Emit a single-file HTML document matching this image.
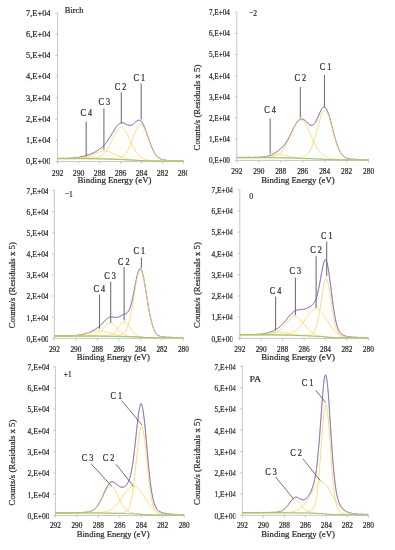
<!DOCTYPE html>
<html lang="en"><head><meta charset="utf-8"><title>XPS C1s spectra</title>
<style>
html,body{margin:0;padding:0;background:#fff;}
svg{display:block;will-change:transform;font-family:'Liberation Serif', 'DejaVu Serif', serif;}
text{stroke:#262626;stroke-width:0.22px;}
</style></head>
<body>
<svg width="395" height="550" viewBox="0 0 395 550">
<rect width="395" height="550" fill="#fff"/>
<linearGradient id="gb" x1="0" y1="0" x2="1" y2="0"><stop offset="0" stop-color="#68c45e"/><stop offset="0.65" stop-color="#6cc468"/><stop offset="1" stop-color="#60c8ac"/></linearGradient>
<clipPath id="c1"><rect x="0" y="0" width="187.4" height="550"/></clipPath>
<clipPath id="c2"><rect x="0" y="0" width="49.2" height="550"/></clipPath>
<g>
<path d="M57.6,12.9 V161.6 H183.5" fill="none" stroke="#b8b8b8" stroke-width="0.8"/>
<path d="M55.4,161.6 H57.6 M55.4,140.4 H57.6 M55.4,119.1 H57.6 M55.4,97.9 H57.6 M55.4,76.6 H57.6 M55.4,55.4 H57.6 M55.4,34.1 H57.6 M55.4,12.9 H57.6 M57.6,161.6 V163.8 M78.6,161.6 V163.8 M99.6,161.6 V163.8 M120.6,161.6 V163.8 M141.5,161.6 V163.8 M162.5,161.6 V163.8 M183.5,161.6 V163.8 " fill="none" stroke="#b8b8b8" stroke-width="0.8"/>
<clipPath id="t0"><rect x="0" y="0" width="49.9" height="550"/></clipPath>
<g font-size="8.60" fill="#2b2b2b" text-anchor="end" clip-path="url(#t0)">
<text x="50.7" y="164.2" textLength="24.7" lengthAdjust="spacingAndGlyphs">0,E+00</text>
<text x="50.7" y="143.0" textLength="24.7" lengthAdjust="spacingAndGlyphs">1,E+04</text>
<text x="50.7" y="121.7" textLength="24.7" lengthAdjust="spacingAndGlyphs">2,E+04</text>
<text x="50.7" y="100.5" textLength="24.7" lengthAdjust="spacingAndGlyphs">3,E+04</text>
<text x="50.7" y="79.2" textLength="24.7" lengthAdjust="spacingAndGlyphs">4,E+04</text>
<text x="50.7" y="58.0" textLength="24.7" lengthAdjust="spacingAndGlyphs">5,E+04</text>
<text x="50.7" y="36.7" textLength="24.7" lengthAdjust="spacingAndGlyphs">6,E+04</text>
<text x="50.7" y="15.5" textLength="24.7" lengthAdjust="spacingAndGlyphs">7,E+04</text>
</g>
<g font-size="9.0" fill="#2b2b2b" text-anchor="middle">
<text x="57.6" y="176.2" textLength="11.7" lengthAdjust="spacingAndGlyphs">292</text>
<text x="78.6" y="176.2" textLength="11.7" lengthAdjust="spacingAndGlyphs">290</text>
<text x="99.6" y="176.2" textLength="11.7" lengthAdjust="spacingAndGlyphs">288</text>
<text x="120.6" y="176.2" textLength="11.7" lengthAdjust="spacingAndGlyphs">286</text>
<text x="141.5" y="176.2" textLength="11.7" lengthAdjust="spacingAndGlyphs">284</text>
<text x="162.5" y="176.2" textLength="11.7" lengthAdjust="spacingAndGlyphs">282</text>
<text x="183.5" y="176.2" textLength="11.7" lengthAdjust="spacingAndGlyphs" clip-path="url(#c1)">280</text>
</g>
<text x="77.5" y="182.6" font-size="9.0" fill="#2b2b2b" textLength="73.9" lengthAdjust="spacingAndGlyphs">Binding Energy (eV)</text>
<text x="64.8" y="13.1" font-size="9.1" fill="#2b2b2b" textLength="18.7" lengthAdjust="spacingAndGlyphs">Birch</text>
<path d="M57.6,158.2 L58.4,158.3 L59.2,158.5 L60.0,158.6 L60.7,158.6 L61.5,158.5 L62.3,158.3 L63.1,158.2 L63.9,158.2 L64.7,158.4 L65.5,158.5 L66.3,158.6 L67.0,158.5 L67.8,158.3 L68.6,158.1 L69.4,158.0 L70.2,158.0 L71.0,158.2 L71.8,158.3 L72.6,158.3 L73.3,158.1 L74.1,157.8 L74.9,157.6 L75.7,157.5 L76.5,157.6 L77.3,157.7 L78.1,157.7 L78.8,157.5 L79.6,157.2 L80.4,156.8 L81.2,156.5 L82.0,156.4 L82.8,156.4 L83.6,156.4 L84.4,156.2 L85.1,155.9 L85.9,155.5 L86.7,155.1 L87.5,154.8 L88.3,154.7 L89.1,154.6 L89.9,154.5 L90.6,154.3 L91.4,153.8 L92.2,153.3 L93.0,152.8 L93.8,152.4 L94.6,152.2 L95.4,152.0 L96.2,151.6 L96.9,151.1 L97.7,150.4 L98.5,149.7 L99.3,149.0 L100.1,148.5 L100.9,148.1 L101.7,147.7 L102.5,147.1 L103.2,146.2 L104.0,145.3 L104.8,144.3 L105.6,143.3 L106.4,142.5 L107.2,141.6 L108.0,140.6 L108.7,139.3 L109.5,137.9 L110.3,136.3 L111.1,134.9 L111.9,133.6 L112.7,132.4 L113.5,131.3 L114.3,130.1 L115.0,128.9 L115.8,127.6 L116.6,126.4 L117.4,125.4 L118.2,124.8 L119.0,124.3 L119.8,123.9 L120.6,123.5 L121.3,123.0 L122.1,122.7 L122.9,122.6 L123.7,122.7 L124.5,123.2 L125.3,123.7 L126.1,124.3 L126.8,124.7 L127.6,124.9 L128.4,125.1 L129.2,125.2 L130.0,125.4 L130.8,125.5 L131.6,125.4 L132.4,125.0 L133.1,124.3 L133.9,123.4 L134.7,122.5 L135.5,121.7 L136.3,121.1 L137.1,120.7 L137.9,120.4 L138.6,120.1 L139.4,120.1 L140.2,120.2 L141.0,120.8 L141.8,121.9 L142.6,123.3 L143.4,125.1 L144.2,126.9 L144.9,128.8 L145.7,130.6 L146.5,132.6 L147.3,134.7 L148.1,137.0 L148.9,139.4 L149.7,141.8 L150.5,144.0 L151.2,145.9 L152.0,147.6 L152.8,149.2 L153.6,150.9 L154.4,152.5 L155.2,154.0 L156.0,155.3 L156.7,156.2 L157.5,156.9 L158.3,157.4 L159.1,157.9 L159.9,158.4 L160.7,159.0 L161.5,159.5 L162.3,159.8 L163.0,160.0 L163.8,159.9 L164.6,159.9 L165.4,160.0 L166.2,160.2 L167.0,160.5 L167.8,160.7 L168.5,160.8 L169.3,160.7 L170.1,160.5 L170.9,160.4 L171.7,160.5 L172.5,160.6 L173.3,160.9 L174.1,161.0 L174.8,161.0 L175.6,160.8 L176.4,160.6 L177.2,160.5 L178.0,160.6 L178.8,160.9 L179.6,161.0 L180.4,161.1 L181.1,161.0 L181.9,160.8 L182.7,160.7 L183.5,160.7" fill="none" stroke="#ec5f7c" stroke-width="0.55"/>
<path d="M57.6,158.4 L58.4,158.4 L59.2,158.4 L60.0,158.4 L60.7,158.4 L61.5,158.4 L62.3,158.4 L63.1,158.4 L63.9,158.4 L64.7,158.4 L65.5,158.4 L66.3,158.3 L67.0,158.3 L67.8,158.3 L68.6,158.3 L69.4,158.2 L70.2,158.2 L71.0,158.2 L71.8,158.1 L72.6,158.1 L73.3,158.0 L74.1,157.9 L74.9,157.8 L75.7,157.7 L76.5,157.6 L77.3,157.5 L78.1,157.4 L78.8,157.2 L79.6,157.1 L80.4,156.9 L81.2,156.8 L82.0,156.6 L82.8,156.4 L83.6,156.2 L84.4,156.0 L85.1,155.8 L85.9,155.5 L86.7,155.3 L87.5,155.1 L88.3,154.8 L89.1,154.5 L89.9,154.3 L90.6,154.0 L91.4,153.7 L92.2,153.3 L93.0,153.0 L93.8,152.6 L94.6,152.2 L95.4,151.8 L96.2,151.4 L96.9,150.9 L97.7,150.4 L98.5,149.9 L99.3,149.4 L100.1,148.8 L100.9,148.2 L101.7,147.5 L102.5,146.8 L103.2,146.0 L104.0,145.2 L104.8,144.4 L105.6,143.4 L106.4,142.5 L107.2,141.4 L108.0,140.3 L108.7,139.1 L109.5,137.9 L110.3,136.6 L111.1,135.3 L111.9,134.0 L112.7,132.6 L113.5,131.3 L114.3,130.0 L115.0,128.7 L115.8,127.5 L116.6,126.4 L117.4,125.4 L118.2,124.6 L119.0,123.9 L119.8,123.4 L120.6,123.0 L121.3,122.9 L122.1,122.8 L122.9,123.0 L123.7,123.2 L124.5,123.5 L125.3,123.9 L126.1,124.3 L126.8,124.7 L127.6,125.0 L128.4,125.2 L129.2,125.4 L130.0,125.3 L130.8,125.2 L131.6,124.9 L132.4,124.5 L133.1,124.0 L133.9,123.4 L134.7,122.7 L135.5,122.0 L136.3,121.4 L137.1,120.8 L137.9,120.4 L138.6,120.2 L139.4,120.3 L140.2,120.6 L141.0,121.2 L141.8,122.0 L142.6,123.2 L143.4,124.7 L144.2,126.4 L144.9,128.3 L145.7,130.4 L146.5,132.6 L147.3,134.9 L148.1,137.2 L148.9,139.4 L149.7,141.7 L150.5,143.8 L151.2,145.9 L152.0,147.8 L152.8,149.5 L153.6,151.1 L154.4,152.6 L155.2,153.9 L156.0,155.0 L156.7,155.9 L157.5,156.8 L158.3,157.5 L159.1,158.1 L159.9,158.6 L160.7,159.0 L161.5,159.3 L162.3,159.6 L163.0,159.8 L163.8,160.0 L164.6,160.1 L165.4,160.3 L166.2,160.3 L167.0,160.4 L167.8,160.5 L168.5,160.5 L169.3,160.6 L170.1,160.6 L170.9,160.6 L171.7,160.7 L172.5,160.7 L173.3,160.7 L174.1,160.7 L174.8,160.8 L175.6,160.8 L176.4,160.8 L177.2,160.8 L178.0,160.8 L178.8,160.8 L179.6,160.8 L180.4,160.9 L181.1,160.9 L181.9,160.9 L182.7,160.9 L183.5,160.9" fill="none" stroke="#5a70c8" stroke-width="0.75"/>
<path d="M57.6,158.6 L58.4,158.6 L59.2,158.6 L60.0,158.6 L60.7,158.6 L61.5,158.6 L62.3,158.6 L63.1,158.6 L63.9,158.6 L64.7,158.6 L65.5,158.6 L66.3,158.6 L67.0,158.6 L67.8,158.6 L68.6,158.6 L69.4,158.6 L70.2,158.6 L71.0,158.6 L71.8,158.6 L72.6,158.6 L73.3,158.6 L74.1,158.6 L74.9,158.6 L75.7,158.6 L76.5,158.6 L77.3,158.6 L78.1,158.6 L78.8,158.6 L79.6,158.6 L80.4,158.6 L81.2,158.6 L82.0,158.6 L82.8,158.6 L83.6,158.6 L84.4,158.6 L85.1,158.6 L85.9,158.6 L86.7,158.6 L87.5,158.7 L88.3,158.7 L89.1,158.7 L89.9,158.7 L90.6,158.7 L91.4,158.7 L92.2,158.7 L93.0,158.7 L93.8,158.7 L94.6,158.7 L95.4,158.7 L96.2,158.7 L96.9,158.7 L97.7,158.7 L98.5,158.7 L99.3,158.7 L100.1,158.7 L100.9,158.7 L101.7,158.7 L102.5,158.7 L103.2,158.7 L104.0,158.7 L104.8,158.8 L105.6,158.8 L106.4,158.8 L107.2,158.8 L108.0,158.8 L108.7,158.8 L109.5,158.8 L110.3,158.8 L111.1,158.8 L111.9,158.8 L112.7,158.8 L113.5,158.8 L114.3,158.8 L115.0,158.7 L115.8,158.7 L116.6,158.6 L117.4,158.5 L118.2,158.4 L119.0,158.2 L119.8,158.0 L120.6,157.8 L121.3,157.4 L122.1,157.0 L122.9,156.5 L123.7,155.9 L124.5,155.1 L125.3,154.2 L126.1,153.2 L126.8,152.0 L127.6,150.7 L128.4,149.2 L129.2,147.6 L130.0,145.8 L130.8,143.9 L131.6,141.9 L132.4,139.8 L133.1,137.7 L133.9,135.5 L134.7,133.5 L135.5,131.5 L136.3,129.7 L137.1,128.0 L137.9,126.7 L138.6,125.6 L139.4,124.8 L140.2,124.5 L141.0,124.5 L141.8,124.9 L142.6,125.6 L143.4,126.7 L144.2,128.1 L144.9,129.8 L145.7,131.6 L146.5,133.7 L147.3,135.8 L148.1,138.0 L148.9,140.2 L149.7,142.3 L150.5,144.4 L151.2,146.4 L152.0,148.2 L152.8,150.0 L153.6,151.5 L154.4,153.0 L155.2,154.2 L156.0,155.3 L156.7,156.3 L157.5,157.1 L158.3,157.8 L159.1,158.4 L159.9,158.8 L160.7,159.2 L161.5,159.6 L162.3,159.8 L163.0,160.0 L163.8,160.2 L164.6,160.3 L165.4,160.5 L166.2,160.5 L167.0,160.6 L167.8,160.7 L168.5,160.7 L169.3,160.8 L170.1,160.8 L170.9,160.8 L171.7,160.8 L172.5,160.9 L173.3,160.9 L174.1,160.9 L174.8,160.9 L175.6,160.9 L176.4,160.9 L177.2,160.9 L178.0,160.9 L178.8,161.0 L179.6,161.0 L180.4,161.0 L181.1,161.0 L181.9,161.0 L182.7,161.0 L183.5,161.0" fill="none" stroke="#ffd35c" stroke-width="0.9" stroke-opacity="0.9"/>
<path d="M57.6,158.5 L58.4,158.5 L59.2,158.5 L60.0,158.5 L60.7,158.5 L61.5,158.5 L62.3,158.5 L63.1,158.5 L63.9,158.5 L64.7,158.5 L65.5,158.5 L66.3,158.5 L67.0,158.5 L67.8,158.5 L68.6,158.5 L69.4,158.5 L70.2,158.5 L71.0,158.5 L71.8,158.5 L72.6,158.5 L73.3,158.5 L74.1,158.5 L74.9,158.5 L75.7,158.5 L76.5,158.5 L77.3,158.5 L78.1,158.5 L78.8,158.5 L79.6,158.5 L80.4,158.5 L81.2,158.5 L82.0,158.5 L82.8,158.5 L83.6,158.5 L84.4,158.5 L85.1,158.5 L85.9,158.5 L86.7,158.5 L87.5,158.5 L88.3,158.4 L89.1,158.4 L89.9,158.4 L90.6,158.4 L91.4,158.3 L92.2,158.3 L93.0,158.2 L93.8,158.2 L94.6,158.1 L95.4,158.0 L96.2,157.8 L96.9,157.6 L97.7,157.4 L98.5,157.2 L99.3,156.9 L100.1,156.5 L100.9,156.1 L101.7,155.6 L102.5,155.1 L103.2,154.4 L104.0,153.6 L104.8,152.8 L105.6,151.8 L106.4,150.8 L107.2,149.6 L108.0,148.3 L108.7,146.9 L109.5,145.5 L110.3,143.9 L111.1,142.3 L111.9,140.7 L112.7,139.0 L113.5,137.4 L114.3,135.7 L115.0,134.2 L115.8,132.7 L116.6,131.3 L117.4,130.1 L118.2,129.1 L119.0,128.3 L119.8,127.7 L120.6,127.4 L121.3,127.3 L122.1,127.5 L122.9,127.9 L123.7,128.6 L124.5,129.5 L125.3,130.7 L126.1,132.0 L126.8,133.4 L127.6,135.0 L128.4,136.6 L129.2,138.3 L130.0,140.1 L130.8,141.8 L131.6,143.5 L132.4,145.1 L133.1,146.7 L133.9,148.2 L134.7,149.7 L135.5,151.0 L136.3,152.2 L137.1,153.3 L137.9,154.3 L138.6,155.2 L139.4,156.0 L140.2,156.7 L141.0,157.3 L141.8,157.9 L142.6,158.3 L143.4,158.7 L144.2,159.1 L144.9,159.4 L145.7,159.6 L146.5,159.8 L147.3,160.0 L148.1,160.1 L148.9,160.3 L149.7,160.4 L150.5,160.4 L151.2,160.5 L152.0,160.6 L152.8,160.6 L153.6,160.7 L154.4,160.7 L155.2,160.7 L156.0,160.8 L156.7,160.8 L157.5,160.8 L158.3,160.8 L159.1,160.8 L159.9,160.9 L160.7,160.9 L161.5,160.9 L162.3,160.9 L163.0,160.9 L163.8,160.9 L164.6,160.9 L165.4,160.9 L166.2,160.9 L167.0,161.0 L167.8,161.0 L168.5,161.0 L169.3,161.0 L170.1,161.0 L170.9,161.0 L171.7,161.0 L172.5,161.0 L173.3,161.0 L174.1,161.0 L174.8,161.0 L175.6,161.0 L176.4,161.0 L177.2,161.0 L178.0,161.0 L178.8,161.1 L179.6,161.1 L180.4,161.1 L181.1,161.1 L181.9,161.1 L182.7,161.1 L183.5,161.1" fill="none" stroke="#ffd35c" stroke-width="0.9" stroke-opacity="0.9"/>
<path d="M57.6,158.6 L58.4,158.6 L59.2,158.6 L60.0,158.6 L60.7,158.6 L61.5,158.6 L62.3,158.6 L63.1,158.6 L63.9,158.6 L64.7,158.6 L65.5,158.6 L66.3,158.6 L67.0,158.6 L67.8,158.6 L68.6,158.6 L69.4,158.6 L70.2,158.6 L71.0,158.5 L71.8,158.5 L72.6,158.5 L73.3,158.5 L74.1,158.5 L74.9,158.5 L75.7,158.4 L76.5,158.4 L77.3,158.4 L78.1,158.3 L78.8,158.3 L79.6,158.2 L80.4,158.1 L81.2,158.0 L82.0,157.9 L82.8,157.8 L83.6,157.7 L84.4,157.5 L85.1,157.4 L85.9,157.2 L86.7,157.0 L87.5,156.7 L88.3,156.5 L89.1,156.2 L89.9,156.0 L90.6,155.6 L91.4,155.3 L92.2,155.0 L93.0,154.6 L93.8,154.3 L94.6,153.9 L95.4,153.6 L96.2,153.2 L96.9,152.9 L97.7,152.5 L98.5,152.2 L99.3,151.9 L100.1,151.7 L100.9,151.4 L101.7,151.2 L102.5,151.1 L103.2,151.0 L104.0,150.9 L104.8,150.9 L105.6,150.9 L106.4,151.0 L107.2,151.2 L108.0,151.4 L108.7,151.6 L109.5,151.9 L110.3,152.2 L111.1,152.5 L111.9,152.8 L112.7,153.2 L113.5,153.6 L114.3,154.0 L115.0,154.4 L115.8,154.8 L116.6,155.2 L117.4,155.6 L118.2,156.0 L119.0,156.3 L119.8,156.7 L120.6,157.0 L121.3,157.3 L122.1,157.6 L122.9,157.9 L123.7,158.1 L124.5,158.4 L125.3,158.6 L126.1,158.8 L126.8,158.9 L127.6,159.1 L128.4,159.2 L129.2,159.4 L130.0,159.5 L130.8,159.6 L131.6,159.7 L132.4,159.8 L133.1,159.9 L133.9,159.9 L134.7,160.0 L135.5,160.1 L136.3,160.1 L137.1,160.2 L137.9,160.3 L138.6,160.3 L139.4,160.4 L140.2,160.4 L141.0,160.5 L141.8,160.5 L142.6,160.6 L143.4,160.6 L144.2,160.6 L144.9,160.7 L145.7,160.7 L146.5,160.8 L147.3,160.8 L148.1,160.8 L148.9,160.8 L149.7,160.9 L150.5,160.9 L151.2,160.9 L152.0,160.9 L152.8,161.0 L153.6,161.0 L154.4,161.0 L155.2,161.0 L156.0,161.0 L156.7,161.0 L157.5,161.0 L158.3,161.0 L159.1,161.0 L159.9,161.0 L160.7,161.1 L161.5,161.1 L162.3,161.1 L163.0,161.1 L163.8,161.1 L164.6,161.1 L165.4,161.1 L166.2,161.1 L167.0,161.1 L167.8,161.1 L168.5,161.1 L169.3,161.1 L170.1,161.1 L170.9,161.1 L171.7,161.1 L172.5,161.1 L173.3,161.1 L174.1,161.1 L174.8,161.1 L175.6,161.1 L176.4,161.1 L177.2,161.1 L178.0,161.1 L178.8,161.1 L179.6,161.1 L180.4,161.1 L181.1,161.1 L181.9,161.2 L182.7,161.2 L183.5,161.2" fill="none" stroke="#ffd35c" stroke-width="0.9" stroke-opacity="0.9"/>
<path d="M57.6,158.6 L58.4,158.6 L59.2,158.6 L60.0,158.6 L60.7,158.6 L61.5,158.6 L62.3,158.6 L63.1,158.6 L63.9,158.6 L64.7,158.6 L65.5,158.6 L66.3,158.6 L67.0,158.6 L67.8,158.6 L68.6,158.6 L69.4,158.5 L70.2,158.5 L71.0,158.5 L71.8,158.4 L72.6,158.4 L73.3,158.4 L74.1,158.3 L74.9,158.3 L75.7,158.2 L76.5,158.1 L77.3,158.1 L78.1,158.0 L78.8,157.9 L79.6,157.9 L80.4,157.8 L81.2,157.7 L82.0,157.7 L82.8,157.6 L83.6,157.6 L84.4,157.5 L85.1,157.5 L85.9,157.5 L86.7,157.5 L87.5,157.5 L88.3,157.5 L89.1,157.5 L89.9,157.6 L90.6,157.6 L91.4,157.7 L92.2,157.8 L93.0,157.8 L93.8,157.9 L94.6,158.0 L95.4,158.1 L96.2,158.2 L96.9,158.3 L97.7,158.3 L98.5,158.4 L99.3,158.5 L100.1,158.5 L100.9,158.6 L101.7,158.7 L102.5,158.7 L103.2,158.8 L104.0,158.8 L104.8,158.9 L105.6,158.9 L106.4,158.9 L107.2,159.0 L108.0,159.0 L108.7,159.0 L109.5,159.1 L110.3,159.1 L111.1,159.1 L111.9,159.1 L112.7,159.2 L113.5,159.2 L114.3,159.2 L115.0,159.3 L115.8,159.3 L116.6,159.3 L117.4,159.4 L118.2,159.4 L119.0,159.5 L119.8,159.5 L120.6,159.5 L121.3,159.6 L122.1,159.6 L122.9,159.6 L123.7,159.7 L124.5,159.7 L125.3,159.8 L126.1,159.8 L126.8,159.8 L127.6,159.9 L128.4,159.9 L129.2,160.0 L130.0,160.0 L130.8,160.0 L131.6,160.1 L132.4,160.1 L133.1,160.1 L133.9,160.2 L134.7,160.2 L135.5,160.3 L136.3,160.3 L137.1,160.3 L137.9,160.4 L138.6,160.4 L139.4,160.5 L140.2,160.5 L141.0,160.6 L141.8,160.6 L142.6,160.6 L143.4,160.7 L144.2,160.7 L144.9,160.7 L145.7,160.8 L146.5,160.8 L147.3,160.8 L148.1,160.9 L148.9,160.9 L149.7,160.9 L150.5,160.9 L151.2,161.0 L152.0,161.0 L152.8,161.0 L153.6,161.0 L154.4,161.0 L155.2,161.0 L156.0,161.0 L156.7,161.1 L157.5,161.1 L158.3,161.1 L159.1,161.1 L159.9,161.1 L160.7,161.1 L161.5,161.1 L162.3,161.1 L163.0,161.1 L163.8,161.1 L164.6,161.1 L165.4,161.1 L166.2,161.1 L167.0,161.1 L167.8,161.1 L168.5,161.1 L169.3,161.1 L170.1,161.1 L170.9,161.1 L171.7,161.1 L172.5,161.1 L173.3,161.1 L174.1,161.1 L174.8,161.1 L175.6,161.1 L176.4,161.1 L177.2,161.2 L178.0,161.2 L178.8,161.2 L179.6,161.2 L180.4,161.2 L181.1,161.2 L181.9,161.2 L182.7,161.2 L183.5,161.2" fill="none" stroke="#ffd35c" stroke-width="0.9" stroke-opacity="0.9"/>
<path d="M57.6,158.6 L58.4,158.6 L59.2,158.6 L60.0,158.6 L60.7,158.6 L61.5,158.6 L62.3,158.6 L63.1,158.6 L63.9,158.6 L64.7,158.6 L65.5,158.7 L66.3,158.7 L67.0,158.7 L67.8,158.7 L68.6,158.7 L69.4,158.7 L70.2,158.7 L71.0,158.7 L71.8,158.7 L72.6,158.7 L73.3,158.7 L74.1,158.7 L74.9,158.7 L75.7,158.7 L76.5,158.7 L77.3,158.7 L78.1,158.7 L78.8,158.7 L79.6,158.7 L80.4,158.7 L81.2,158.7 L82.0,158.7 L82.8,158.7 L83.6,158.7 L84.4,158.7 L85.1,158.7 L85.9,158.7 L86.7,158.8 L87.5,158.8 L88.3,158.8 L89.1,158.8 L89.9,158.8 L90.6,158.8 L91.4,158.8 L92.2,158.8 L93.0,158.8 L93.8,158.8 L94.6,158.8 L95.4,158.8 L96.2,158.8 L96.9,158.8 L97.7,158.9 L98.5,158.9 L99.3,158.9 L100.1,158.9 L100.9,158.9 L101.7,158.9 L102.5,158.9 L103.2,158.9 L104.0,159.0 L104.8,159.0 L105.6,159.0 L106.4,159.0 L107.2,159.0 L108.0,159.1 L108.7,159.1 L109.5,159.1 L110.3,159.1 L111.1,159.1 L111.9,159.2 L112.7,159.2 L113.5,159.2 L114.3,159.3 L115.0,159.3 L115.8,159.3 L116.6,159.4 L117.4,159.4 L118.2,159.4 L119.0,159.5 L119.8,159.5 L120.6,159.5 L121.3,159.6 L122.1,159.6 L122.9,159.7 L123.7,159.7 L124.5,159.7 L125.3,159.8 L126.1,159.8 L126.8,159.8 L127.6,159.9 L128.4,159.9 L129.2,160.0 L130.0,160.0 L130.8,160.0 L131.6,160.1 L132.4,160.1 L133.1,160.1 L133.9,160.2 L134.7,160.2 L135.5,160.3 L136.3,160.3 L137.1,160.3 L137.9,160.4 L138.6,160.4 L139.4,160.5 L140.2,160.5 L141.0,160.6 L141.8,160.6 L142.6,160.6 L143.4,160.7 L144.2,160.7 L144.9,160.8 L145.7,160.8 L146.5,160.8 L147.3,160.8 L148.1,160.9 L148.9,160.9 L149.7,160.9 L150.5,160.9 L151.2,161.0 L152.0,161.0 L152.8,161.0 L153.6,161.0 L154.4,161.0 L155.2,161.0 L156.0,161.0 L156.7,161.1 L157.5,161.1 L158.3,161.1 L159.1,161.1 L159.9,161.1 L160.7,161.1 L161.5,161.1 L162.3,161.1 L163.0,161.1 L163.8,161.1 L164.6,161.1 L165.4,161.1 L166.2,161.1 L167.0,161.1 L167.8,161.1 L168.5,161.1 L169.3,161.1 L170.1,161.1 L170.9,161.1 L171.7,161.1 L172.5,161.1 L173.3,161.1 L174.1,161.1 L174.8,161.1 L175.6,161.1 L176.4,161.2 L177.2,161.2 L178.0,161.2 L178.8,161.2 L179.6,161.2 L180.4,161.2 L181.1,161.2 L181.9,161.2 L182.7,161.2 L183.5,161.2" fill="none" stroke="url(#gb)" stroke-width="1.0" stroke-opacity="0.9"/>
<path d="M141.2,83.5 L141.2,119.6" stroke="#6c6c6c" stroke-width="1.05" fill="none"/>
<text x="139.4" y="80.8" font-size="9.5" fill="#2b2b2b" text-anchor="middle" textLength="11.6" lengthAdjust="spacingAndGlyphs">C 1</text>
<path d="M121.3,92.3 L121.3,123.2" stroke="#6c6c6c" stroke-width="1.05" fill="none"/>
<text x="120.6" y="90.4" font-size="9.5" fill="#2b2b2b" text-anchor="middle" textLength="11.6" lengthAdjust="spacingAndGlyphs">C 2</text>
<path d="M103.9,108.3 L103.9,149.8" stroke="#6c6c6c" stroke-width="1.05" fill="none"/>
<text x="104.2" y="104.5" font-size="9.5" fill="#2b2b2b" text-anchor="middle" textLength="11.6" lengthAdjust="spacingAndGlyphs">C 3</text>
<path d="M86.2,121.4 L86.2,156.2" stroke="#6c6c6c" stroke-width="1.05" fill="none"/>
<text x="86.2" y="116.0" font-size="9.5" fill="#2b2b2b" text-anchor="middle" textLength="11.6" lengthAdjust="spacingAndGlyphs">C 4</text>
</g>
<g>
<path d="M236.8,12.2 V160.4 H368.6" fill="none" stroke="#b8b8b8" stroke-width="0.8"/>
<path d="M234.6,160.4 H236.8 M234.6,139.2 H236.8 M234.6,118.1 H236.8 M234.6,96.9 H236.8 M234.6,75.7 H236.8 M234.6,54.5 H236.8 M234.6,33.4 H236.8 M234.6,12.2 H236.8 M236.8,160.4 V162.6 M258.8,160.4 V162.6 M280.7,160.4 V162.6 M302.7,160.4 V162.6 M324.7,160.4 V162.6 M346.6,160.4 V162.6 M368.6,160.4 V162.6 " fill="none" stroke="#b8b8b8" stroke-width="0.8"/>
<g font-size="8.00" fill="#2b2b2b" text-anchor="end">
<text x="229.9" y="163.2" textLength="21.0" lengthAdjust="spacingAndGlyphs">0,E+00</text>
<text x="229.9" y="142.0" textLength="21.0" lengthAdjust="spacingAndGlyphs">1,E+04</text>
<text x="229.9" y="120.9" textLength="21.0" lengthAdjust="spacingAndGlyphs">2,E+04</text>
<text x="229.9" y="99.7" textLength="21.0" lengthAdjust="spacingAndGlyphs">3,E+04</text>
<text x="229.9" y="78.5" textLength="21.0" lengthAdjust="spacingAndGlyphs">4,E+04</text>
<text x="229.9" y="57.3" textLength="21.0" lengthAdjust="spacingAndGlyphs">5,E+04</text>
<text x="229.9" y="36.2" textLength="21.0" lengthAdjust="spacingAndGlyphs">6,E+04</text>
<text x="229.9" y="15.0" textLength="21.0" lengthAdjust="spacingAndGlyphs">7,E+04</text>
</g>
<g font-size="8.4" fill="#2b2b2b" text-anchor="middle">
<text x="236.8" y="174.0" textLength="11.0" lengthAdjust="spacingAndGlyphs">292</text>
<text x="258.8" y="174.0" textLength="11.0" lengthAdjust="spacingAndGlyphs">290</text>
<text x="280.7" y="174.0" textLength="11.0" lengthAdjust="spacingAndGlyphs">288</text>
<text x="302.7" y="174.0" textLength="11.0" lengthAdjust="spacingAndGlyphs">286</text>
<text x="324.7" y="174.0" textLength="11.0" lengthAdjust="spacingAndGlyphs">284</text>
<text x="346.6" y="174.0" textLength="11.0" lengthAdjust="spacingAndGlyphs">282</text>
<text x="368.6" y="174.0" textLength="11.0" lengthAdjust="spacingAndGlyphs">280</text>
</g>
<text x="261.3" y="182.6" font-size="9.0" fill="#2b2b2b" textLength="73.3" lengthAdjust="spacingAndGlyphs">Binding Energy (eV)</text>
<text transform="translate(200.2,107.5) rotate(-90)" text-anchor="middle" font-size="9.0" fill="#2b2b2b" textLength="85.8" lengthAdjust="spacingAndGlyphs">Counts/s (Residuals x 5)</text>
<text x="249.0" y="16.2" font-size="9.1" fill="#2b2b2b" textLength="8.0" lengthAdjust="spacingAndGlyphs">−2</text>
<path d="M236.8,157.2 L237.6,157.3 L238.4,157.5 L239.3,157.7 L240.1,157.7 L240.9,157.5 L241.7,157.3 L242.6,157.2 L243.4,157.2 L244.2,157.4 L245.0,157.6 L245.9,157.7 L246.7,157.6 L247.5,157.4 L248.3,157.2 L249.2,157.1 L250.0,157.2 L250.8,157.4 L251.6,157.6 L252.5,157.6 L253.3,157.5 L254.1,157.3 L254.9,157.1 L255.7,157.1 L256.6,157.2 L257.4,157.4 L258.2,157.5 L259.0,157.5 L259.9,157.3 L260.7,157.0 L261.5,156.9 L262.3,156.9 L263.2,157.0 L264.0,157.1 L264.8,157.0 L265.6,156.8 L266.5,156.4 L267.3,156.1 L268.1,155.8 L268.9,155.7 L269.8,155.6 L270.6,155.5 L271.4,155.1 L272.2,154.6 L273.0,154.0 L273.9,153.4 L274.7,152.9 L275.5,152.5 L276.3,152.2 L277.2,151.7 L278.0,151.0 L278.8,150.2 L279.6,149.3 L280.5,148.6 L281.3,147.9 L282.1,147.3 L282.9,146.7 L283.8,145.9 L284.6,144.8 L285.4,143.5 L286.2,142.2 L287.0,140.8 L287.9,139.6 L288.7,138.2 L289.5,136.8 L290.3,135.0 L291.2,133.1 L292.0,131.1 L292.8,129.2 L293.6,127.6 L294.5,126.1 L295.3,124.8 L296.1,123.6 L296.9,122.3 L297.8,121.1 L298.6,120.2 L299.4,119.5 L300.2,119.2 L301.1,119.2 L301.9,119.3 L302.7,119.4 L303.5,119.6 L304.3,119.9 L305.2,120.3 L306.0,121.0 L306.8,122.0 L307.6,123.0 L308.5,123.9 L309.3,124.6 L310.1,125.0 L310.9,125.1 L311.8,125.2 L312.6,125.1 L313.4,124.8 L314.2,124.2 L315.1,123.2 L315.9,121.7 L316.7,119.8 L317.5,117.8 L318.4,115.8 L319.2,113.9 L320.0,112.2 L320.8,110.6 L321.6,109.1 L322.5,107.8 L323.3,107.0 L324.1,106.7 L324.9,107.1 L325.8,108.1 L326.6,109.6 L327.4,111.5 L328.2,113.6 L329.1,115.9 L329.9,118.4 L330.7,121.3 L331.5,124.4 L332.4,127.8 L333.2,131.2 L334.0,134.3 L334.8,137.3 L335.7,139.9 L336.5,142.5 L337.3,145.0 L338.1,147.4 L338.9,149.5 L339.8,151.4 L340.6,152.9 L341.4,153.9 L342.2,154.8 L343.1,155.6 L343.9,156.3 L344.7,157.1 L345.5,157.8 L346.4,158.2 L347.2,158.4 L348.0,158.5 L348.8,158.5 L349.7,158.6 L350.5,158.8 L351.3,159.1 L352.1,159.4 L352.9,159.4 L353.8,159.4 L354.6,159.2 L355.4,159.1 L356.2,159.2 L357.1,159.4 L357.9,159.6 L358.7,159.7 L359.5,159.7 L360.4,159.5 L361.2,159.3 L362.0,159.3 L362.8,159.4 L363.7,159.6 L364.5,159.8 L365.3,159.8 L366.1,159.8 L367.0,159.6 L367.8,159.4 L368.6,159.4" fill="none" stroke="#ec5f7c" stroke-width="0.55"/>
<path d="M236.8,157.5 L237.6,157.5 L238.4,157.5 L239.3,157.5 L240.1,157.4 L240.9,157.4 L241.7,157.4 L242.6,157.4 L243.4,157.4 L244.2,157.4 L245.0,157.4 L245.9,157.4 L246.7,157.4 L247.5,157.4 L248.3,157.4 L249.2,157.4 L250.0,157.4 L250.8,157.4 L251.6,157.4 L252.5,157.4 L253.3,157.4 L254.1,157.4 L254.9,157.3 L255.7,157.3 L256.6,157.3 L257.4,157.3 L258.2,157.3 L259.0,157.2 L259.9,157.2 L260.7,157.2 L261.5,157.1 L262.3,157.1 L263.2,157.0 L264.0,156.9 L264.8,156.8 L265.6,156.6 L266.5,156.5 L267.3,156.3 L268.1,156.1 L268.9,155.8 L269.8,155.5 L270.6,155.2 L271.4,154.9 L272.2,154.5 L273.0,154.0 L273.9,153.6 L274.7,153.1 L275.5,152.6 L276.3,152.0 L277.2,151.5 L278.0,150.9 L278.8,150.2 L279.6,149.6 L280.5,148.9 L281.3,148.2 L282.1,147.4 L282.9,146.5 L283.8,145.6 L284.6,144.6 L285.4,143.4 L286.2,142.2 L287.0,140.9 L287.9,139.5 L288.7,138.0 L289.5,136.5 L290.3,134.8 L291.2,133.1 L292.0,131.4 L292.8,129.7 L293.6,128.0 L294.5,126.4 L295.3,124.8 L296.1,123.4 L296.9,122.1 L297.8,121.0 L298.6,120.1 L299.4,119.5 L300.2,119.0 L301.1,118.8 L301.9,118.8 L302.7,119.0 L303.5,119.4 L304.3,120.0 L305.2,120.7 L306.0,121.5 L306.8,122.3 L307.6,123.2 L308.5,123.9 L309.3,124.6 L310.1,125.0 L310.9,125.3 L311.8,125.3 L312.6,125.1 L313.4,124.6 L314.2,123.8 L315.1,122.7 L315.9,121.3 L316.7,119.7 L317.5,118.0 L318.4,116.2 L319.2,114.3 L320.0,112.4 L320.8,110.7 L321.6,109.3 L322.5,108.1 L323.3,107.3 L324.1,107.0 L324.9,107.2 L325.8,107.9 L326.6,109.1 L327.4,110.9 L328.2,113.0 L329.1,115.5 L329.9,118.4 L330.7,121.4 L331.5,124.6 L332.4,127.9 L333.2,131.1 L334.0,134.3 L334.8,137.3 L335.7,140.2 L336.5,142.8 L337.3,145.3 L338.1,147.5 L338.9,149.4 L339.8,151.1 L340.6,152.6 L341.4,153.8 L342.2,154.9 L343.1,155.8 L343.9,156.5 L344.7,157.1 L345.5,157.6 L346.4,158.0 L347.2,158.3 L348.0,158.5 L348.8,158.7 L349.7,158.8 L350.5,159.0 L351.3,159.1 L352.1,159.1 L352.9,159.2 L353.8,159.3 L354.6,159.3 L355.4,159.3 L356.2,159.4 L357.1,159.4 L357.9,159.4 L358.7,159.5 L359.5,159.5 L360.4,159.5 L361.2,159.5 L362.0,159.5 L362.8,159.6 L363.7,159.6 L364.5,159.6 L365.3,159.6 L366.1,159.6 L367.0,159.6 L367.8,159.6 L368.6,159.7" fill="none" stroke="#5a70c8" stroke-width="0.75"/>
<path d="M236.8,157.6 L237.6,157.6 L238.4,157.6 L239.3,157.6 L240.1,157.6 L240.9,157.6 L241.7,157.6 L242.6,157.6 L243.4,157.6 L244.2,157.6 L245.0,157.6 L245.9,157.6 L246.7,157.6 L247.5,157.6 L248.3,157.6 L249.2,157.6 L250.0,157.6 L250.8,157.6 L251.6,157.6 L252.5,157.6 L253.3,157.6 L254.1,157.6 L254.9,157.6 L255.7,157.6 L256.6,157.6 L257.4,157.6 L258.2,157.6 L259.0,157.6 L259.9,157.6 L260.7,157.6 L261.5,157.6 L262.3,157.6 L263.2,157.6 L264.0,157.6 L264.8,157.6 L265.6,157.6 L266.5,157.6 L267.3,157.6 L268.1,157.6 L268.9,157.6 L269.8,157.6 L270.6,157.6 L271.4,157.6 L272.2,157.6 L273.0,157.6 L273.9,157.6 L274.7,157.6 L275.5,157.6 L276.3,157.6 L277.2,157.6 L278.0,157.6 L278.8,157.6 L279.6,157.6 L280.5,157.6 L281.3,157.6 L282.1,157.6 L282.9,157.6 L283.8,157.6 L284.6,157.6 L285.4,157.7 L286.2,157.7 L287.0,157.7 L287.9,157.7 L288.7,157.7 L289.5,157.7 L290.3,157.7 L291.2,157.7 L292.0,157.7 L292.8,157.7 L293.6,157.7 L294.5,157.7 L295.3,157.7 L296.1,157.7 L296.9,157.7 L297.8,157.7 L298.6,157.6 L299.4,157.6 L300.2,157.5 L301.1,157.4 L301.9,157.2 L302.7,157.1 L303.5,156.8 L304.3,156.5 L305.2,156.1 L306.0,155.5 L306.8,154.9 L307.6,154.1 L308.5,153.1 L309.3,151.9 L310.1,150.5 L310.9,148.9 L311.8,147.1 L312.6,145.0 L313.4,142.7 L314.2,140.1 L315.1,137.4 L315.9,134.5 L316.7,131.4 L317.5,128.3 L318.4,125.2 L319.2,122.2 L320.0,119.4 L320.8,116.7 L321.6,114.4 L322.5,112.6 L323.3,111.2 L324.1,110.3 L324.9,110.0 L325.8,110.3 L326.6,111.2 L327.4,112.6 L328.2,114.5 L329.1,116.8 L329.9,119.5 L330.7,122.4 L331.5,125.5 L332.4,128.6 L333.2,131.8 L334.0,134.9 L334.8,137.9 L335.7,140.7 L336.5,143.3 L337.3,145.7 L338.1,147.9 L338.9,149.8 L339.8,151.5 L340.6,152.9 L341.4,154.2 L342.2,155.2 L343.1,156.1 L343.9,156.8 L344.7,157.4 L345.5,157.8 L346.4,158.2 L347.2,158.5 L348.0,158.7 L348.8,158.9 L349.7,159.1 L350.5,159.2 L351.3,159.3 L352.1,159.3 L352.9,159.4 L353.8,159.4 L354.6,159.5 L355.4,159.5 L356.2,159.5 L357.1,159.6 L357.9,159.6 L358.7,159.6 L359.5,159.6 L360.4,159.6 L361.2,159.7 L362.0,159.7 L362.8,159.7 L363.7,159.7 L364.5,159.7 L365.3,159.7 L366.1,159.7 L367.0,159.8 L367.8,159.8 L368.6,159.8" fill="none" stroke="#ffd35c" stroke-width="0.9" stroke-opacity="0.9"/>
<path d="M236.8,157.5 L237.6,157.5 L238.4,157.5 L239.3,157.5 L240.1,157.5 L240.9,157.5 L241.7,157.5 L242.6,157.5 L243.4,157.5 L244.2,157.5 L245.0,157.5 L245.9,157.5 L246.7,157.5 L247.5,157.5 L248.3,157.5 L249.2,157.5 L250.0,157.5 L250.8,157.5 L251.6,157.5 L252.5,157.5 L253.3,157.5 L254.1,157.5 L254.9,157.5 L255.7,157.5 L256.6,157.4 L257.4,157.4 L258.2,157.4 L259.0,157.4 L259.9,157.4 L260.7,157.4 L261.5,157.4 L262.3,157.4 L263.2,157.4 L264.0,157.3 L264.8,157.3 L265.6,157.3 L266.5,157.2 L267.3,157.2 L268.1,157.1 L268.9,157.1 L269.8,157.0 L270.6,156.9 L271.4,156.8 L272.2,156.7 L273.0,156.5 L273.9,156.3 L274.7,156.0 L275.5,155.8 L276.3,155.4 L277.2,155.0 L278.0,154.5 L278.8,154.0 L279.6,153.4 L280.5,152.7 L281.3,151.9 L282.1,151.0 L282.9,149.9 L283.8,148.8 L284.6,147.6 L285.4,146.2 L286.2,144.8 L287.0,143.2 L287.9,141.6 L288.7,139.9 L289.5,138.1 L290.3,136.3 L291.2,134.4 L292.0,132.6 L292.8,130.7 L293.6,128.9 L294.5,127.2 L295.3,125.6 L296.1,124.2 L296.9,122.9 L297.8,121.8 L298.6,120.9 L299.4,120.3 L300.2,119.9 L301.1,119.8 L301.9,120.0 L302.7,120.4 L303.5,121.1 L304.3,122.1 L305.2,123.2 L306.0,124.6 L306.8,126.1 L307.6,127.7 L308.5,129.5 L309.3,131.3 L310.1,133.2 L310.9,135.1 L311.8,137.0 L312.6,138.9 L313.4,140.8 L314.2,142.5 L315.1,144.2 L315.9,145.8 L316.7,147.3 L317.5,148.7 L318.4,150.0 L319.2,151.1 L320.0,152.2 L320.8,153.2 L321.6,154.0 L322.5,154.8 L323.3,155.4 L324.1,156.0 L324.9,156.6 L325.8,157.0 L326.6,157.4 L327.4,157.7 L328.2,158.0 L329.1,158.3 L329.9,158.5 L330.7,158.7 L331.5,158.8 L332.4,158.9 L333.2,159.1 L334.0,159.1 L334.8,159.2 L335.7,159.3 L336.5,159.3 L337.3,159.4 L338.1,159.4 L338.9,159.5 L339.8,159.5 L340.6,159.5 L341.4,159.6 L342.2,159.6 L343.1,159.6 L343.9,159.6 L344.7,159.6 L345.5,159.6 L346.4,159.7 L347.2,159.7 L348.0,159.7 L348.8,159.7 L349.7,159.7 L350.5,159.7 L351.3,159.7 L352.1,159.7 L352.9,159.7 L353.8,159.7 L354.6,159.8 L355.4,159.8 L356.2,159.8 L357.1,159.8 L357.9,159.8 L358.7,159.8 L359.5,159.8 L360.4,159.8 L361.2,159.8 L362.0,159.8 L362.8,159.8 L363.7,159.8 L364.5,159.8 L365.3,159.8 L366.1,159.8 L367.0,159.9 L367.8,159.9 L368.6,159.9" fill="none" stroke="#ffd35c" stroke-width="0.9" stroke-opacity="0.9"/>
<path d="M236.8,157.6 L237.6,157.6 L238.4,157.6 L239.3,157.6 L240.1,157.6 L240.9,157.6 L241.7,157.6 L242.6,157.6 L243.4,157.6 L244.2,157.7 L245.0,157.7 L245.9,157.7 L246.7,157.7 L247.5,157.7 L248.3,157.7 L249.2,157.7 L250.0,157.7 L250.8,157.7 L251.6,157.7 L252.5,157.7 L253.3,157.7 L254.1,157.7 L254.9,157.7 L255.7,157.7 L256.6,157.7 L257.4,157.6 L258.2,157.6 L259.0,157.6 L259.9,157.6 L260.7,157.6 L261.5,157.5 L262.3,157.5 L263.2,157.5 L264.0,157.4 L264.8,157.3 L265.6,157.2 L266.5,157.1 L267.3,156.9 L268.1,156.8 L268.9,156.6 L269.8,156.4 L270.6,156.2 L271.4,156.0 L272.2,155.7 L273.0,155.5 L273.9,155.2 L274.7,155.0 L275.5,154.8 L276.3,154.6 L277.2,154.4 L278.0,154.3 L278.8,154.2 L279.6,154.2 L280.5,154.3 L281.3,154.3 L282.1,154.5 L282.9,154.7 L283.8,154.9 L284.6,155.1 L285.4,155.3 L286.2,155.6 L287.0,155.9 L287.9,156.1 L288.7,156.4 L289.5,156.6 L290.3,156.9 L291.2,157.1 L292.0,157.2 L292.8,157.4 L293.6,157.6 L294.5,157.7 L295.3,157.8 L296.1,157.9 L296.9,158.0 L297.8,158.1 L298.6,158.1 L299.4,158.2 L300.2,158.2 L301.1,158.3 L301.9,158.3 L302.7,158.4 L303.5,158.4 L304.3,158.5 L305.2,158.5 L306.0,158.5 L306.8,158.6 L307.6,158.6 L308.5,158.6 L309.3,158.7 L310.1,158.7 L310.9,158.7 L311.8,158.7 L312.6,158.8 L313.4,158.8 L314.2,158.8 L315.1,158.9 L315.9,158.9 L316.7,158.9 L317.5,159.0 L318.4,159.0 L319.2,159.0 L320.0,159.1 L320.8,159.1 L321.6,159.2 L322.5,159.2 L323.3,159.2 L324.1,159.3 L324.9,159.3 L325.8,159.4 L326.6,159.4 L327.4,159.5 L328.2,159.5 L329.1,159.5 L329.9,159.6 L330.7,159.6 L331.5,159.6 L332.4,159.7 L333.2,159.7 L334.0,159.7 L334.8,159.8 L335.7,159.8 L336.5,159.8 L337.3,159.8 L338.1,159.8 L338.9,159.8 L339.8,159.8 L340.6,159.9 L341.4,159.9 L342.2,159.9 L343.1,159.9 L343.9,159.9 L344.7,159.9 L345.5,159.9 L346.4,159.9 L347.2,159.9 L348.0,159.9 L348.8,159.9 L349.7,159.9 L350.5,159.9 L351.3,159.9 L352.1,159.9 L352.9,159.9 L353.8,159.9 L354.6,159.9 L355.4,159.9 L356.2,159.9 L357.1,159.9 L357.9,159.9 L358.7,159.9 L359.5,159.9 L360.4,159.9 L361.2,160.0 L362.0,160.0 L362.8,160.0 L363.7,160.0 L364.5,160.0 L365.3,160.0 L366.1,160.0 L367.0,160.0 L367.8,160.0 L368.6,160.0" fill="none" stroke="#ffd35c" stroke-width="0.9" stroke-opacity="0.9"/>
<path d="M236.8,157.6 L237.6,157.7 L238.4,157.7 L239.3,157.7 L240.1,157.7 L240.9,157.7 L241.7,157.7 L242.6,157.7 L243.4,157.7 L244.2,157.7 L245.0,157.7 L245.9,157.7 L246.7,157.7 L247.5,157.7 L248.3,157.7 L249.2,157.7 L250.0,157.7 L250.8,157.7 L251.6,157.7 L252.5,157.7 L253.3,157.7 L254.1,157.7 L254.9,157.7 L255.7,157.7 L256.6,157.7 L257.4,157.7 L258.2,157.7 L259.0,157.7 L259.9,157.7 L260.7,157.7 L261.5,157.7 L262.3,157.7 L263.2,157.7 L264.0,157.7 L264.8,157.7 L265.6,157.7 L266.5,157.7 L267.3,157.7 L268.1,157.7 L268.9,157.7 L269.8,157.8 L270.6,157.8 L271.4,157.8 L272.2,157.8 L273.0,157.8 L273.9,157.8 L274.7,157.8 L275.5,157.8 L276.3,157.8 L277.2,157.8 L278.0,157.8 L278.8,157.8 L279.6,157.8 L280.5,157.8 L281.3,157.8 L282.1,157.8 L282.9,157.9 L283.8,157.9 L284.6,157.9 L285.4,157.9 L286.2,157.9 L287.0,157.9 L287.9,157.9 L288.7,158.0 L289.5,158.0 L290.3,158.0 L291.2,158.0 L292.0,158.0 L292.8,158.1 L293.6,158.1 L294.5,158.1 L295.3,158.1 L296.1,158.2 L296.9,158.2 L297.8,158.2 L298.6,158.3 L299.4,158.3 L300.2,158.3 L301.1,158.4 L301.9,158.4 L302.7,158.4 L303.5,158.5 L304.3,158.5 L305.2,158.5 L306.0,158.6 L306.8,158.6 L307.6,158.6 L308.5,158.7 L309.3,158.7 L310.1,158.7 L310.9,158.7 L311.8,158.8 L312.6,158.8 L313.4,158.8 L314.2,158.9 L315.1,158.9 L315.9,158.9 L316.7,158.9 L317.5,159.0 L318.4,159.0 L319.2,159.1 L320.0,159.1 L320.8,159.1 L321.6,159.2 L322.5,159.2 L323.3,159.3 L324.1,159.3 L324.9,159.3 L325.8,159.4 L326.6,159.4 L327.4,159.5 L328.2,159.5 L329.1,159.6 L329.9,159.6 L330.7,159.6 L331.5,159.7 L332.4,159.7 L333.2,159.7 L334.0,159.7 L334.8,159.8 L335.7,159.8 L336.5,159.8 L337.3,159.8 L338.1,159.8 L338.9,159.8 L339.8,159.9 L340.6,159.9 L341.4,159.9 L342.2,159.9 L343.1,159.9 L343.9,159.9 L344.7,159.9 L345.5,159.9 L346.4,159.9 L347.2,159.9 L348.0,159.9 L348.8,159.9 L349.7,159.9 L350.5,159.9 L351.3,159.9 L352.1,159.9 L352.9,159.9 L353.8,159.9 L354.6,159.9 L355.4,159.9 L356.2,159.9 L357.1,159.9 L357.9,159.9 L358.7,159.9 L359.5,159.9 L360.4,160.0 L361.2,160.0 L362.0,160.0 L362.8,160.0 L363.7,160.0 L364.5,160.0 L365.3,160.0 L366.1,160.0 L367.0,160.0 L367.8,160.0 L368.6,160.0" fill="none" stroke="url(#gb)" stroke-width="1.0" stroke-opacity="0.9"/>
<path d="M324.5,75.0 L324.5,107.3" stroke="#6c6c6c" stroke-width="1.05" fill="none"/>
<text x="325.6" y="69.6" font-size="9.5" fill="#2b2b2b" text-anchor="middle" textLength="11.6" lengthAdjust="spacingAndGlyphs">C 1</text>
<path d="M300.3,87.0 L300.3,117.5" stroke="#6c6c6c" stroke-width="1.05" fill="none"/>
<text x="300.3" y="81.3" font-size="9.5" fill="#2b2b2b" text-anchor="middle" textLength="11.6" lengthAdjust="spacingAndGlyphs">C 2</text>
<path d="M270.2,118.6 L270.2,153.8" stroke="#6c6c6c" stroke-width="1.05" fill="none"/>
<text x="270.0" y="113.0" font-size="9.5" fill="#2b2b2b" text-anchor="middle" textLength="11.6" lengthAdjust="spacingAndGlyphs">C 4</text>
</g>
<g>
<path d="M54.4,190.4 V338.3 H183.4" fill="none" stroke="#b8b8b8" stroke-width="0.8"/>
<path d="M52.2,338.3 H54.4 M52.2,317.2 H54.4 M52.2,296.0 H54.4 M52.2,274.9 H54.4 M52.2,253.8 H54.4 M52.2,232.7 H54.4 M52.2,211.5 H54.4 M52.2,190.4 H54.4 M54.4,338.3 V340.5 M75.9,338.3 V340.5 M97.4,338.3 V340.5 M118.9,338.3 V340.5 M140.4,338.3 V340.5 M161.9,338.3 V340.5 M183.4,338.3 V340.5 " fill="none" stroke="#b8b8b8" stroke-width="0.8"/>
<clipPath id="t2"><rect x="0" y="0" width="48.1" height="550"/></clipPath>
<g font-size="8.00" fill="#2b2b2b" text-anchor="end" clip-path="url(#t2)">
<text x="48.8" y="341.6" textLength="22.2" lengthAdjust="spacingAndGlyphs">0,E+00</text>
<text x="48.8" y="320.5" textLength="22.2" lengthAdjust="spacingAndGlyphs">1,E+04</text>
<text x="48.8" y="299.3" textLength="22.2" lengthAdjust="spacingAndGlyphs">2,E+04</text>
<text x="48.8" y="278.2" textLength="22.2" lengthAdjust="spacingAndGlyphs">3,E+04</text>
<text x="48.8" y="257.1" textLength="22.2" lengthAdjust="spacingAndGlyphs">4,E+04</text>
<text x="48.8" y="236.0" textLength="22.2" lengthAdjust="spacingAndGlyphs">5,E+04</text>
<text x="48.8" y="214.8" textLength="22.2" lengthAdjust="spacingAndGlyphs">6,E+04</text>
<text x="48.8" y="193.7" textLength="22.2" lengthAdjust="spacingAndGlyphs">7,E+04</text>
</g>
<g font-size="8.4" fill="#2b2b2b" text-anchor="middle">
<text x="54.4" y="352.0" textLength="11.0" lengthAdjust="spacingAndGlyphs">292</text>
<text x="75.9" y="352.0" textLength="11.0" lengthAdjust="spacingAndGlyphs">290</text>
<text x="97.4" y="352.0" textLength="11.0" lengthAdjust="spacingAndGlyphs">288</text>
<text x="118.9" y="352.0" textLength="11.0" lengthAdjust="spacingAndGlyphs">286</text>
<text x="140.4" y="352.0" textLength="11.0" lengthAdjust="spacingAndGlyphs">284</text>
<text x="161.9" y="352.0" textLength="11.0" lengthAdjust="spacingAndGlyphs">282</text>
<text x="183.4" y="352.0" textLength="11.0" lengthAdjust="spacingAndGlyphs">280</text>
</g>
<text x="76.7" y="360.3" font-size="9.0" fill="#2b2b2b" textLength="73.2" lengthAdjust="spacingAndGlyphs">Binding Energy (eV)</text>
<text transform="translate(15.4,285.2) rotate(-90)" text-anchor="middle" font-size="9.0" fill="#2b2b2b" textLength="86.2" lengthAdjust="spacingAndGlyphs">Counts/s (Residuals x 5)</text>
<text x="64.8" y="197.4" font-size="9.1" fill="#2b2b2b" textLength="8.1" lengthAdjust="spacingAndGlyphs">−1</text>
<path d="M54.4,335.6 L55.2,335.7 L56.0,335.9 L56.8,336.1 L57.6,336.1 L58.4,335.9 L59.2,335.7 L60.0,335.6 L60.9,335.6 L61.7,335.8 L62.5,336.0 L63.3,336.1 L64.1,336.0 L64.9,335.8 L65.7,335.6 L66.5,335.5 L67.3,335.6 L68.1,335.8 L68.9,335.9 L69.7,335.9 L70.5,335.8 L71.3,335.6 L72.1,335.4 L72.9,335.4 L73.8,335.5 L74.6,335.6 L75.4,335.7 L76.2,335.6 L77.0,335.4 L77.8,335.1 L78.6,334.9 L79.4,334.8 L80.2,334.9 L81.0,334.9 L81.8,334.8 L82.6,334.5 L83.4,334.1 L84.2,333.8 L85.0,333.5 L85.8,333.4 L86.7,333.4 L87.5,333.3 L88.3,333.0 L89.1,332.6 L89.9,332.0 L90.7,331.6 L91.5,331.2 L92.3,331.0 L93.1,330.8 L93.9,330.4 L94.7,329.9 L95.5,329.2 L96.3,328.5 L97.1,327.8 L97.9,327.3 L98.7,326.8 L99.5,326.3 L100.4,325.7 L101.2,324.8 L102.0,323.8 L102.8,322.8 L103.6,321.9 L104.4,321.2 L105.2,320.5 L106.0,319.9 L106.8,319.1 L107.6,318.3 L108.4,317.5 L109.2,317.0 L110.0,316.8 L110.8,316.8 L111.6,317.0 L112.4,317.2 L113.3,317.3 L114.1,317.3 L114.9,317.3 L115.7,317.3 L116.5,317.4 L117.3,317.5 L118.1,317.4 L118.9,317.1 L119.7,316.6 L120.5,316.0 L121.3,315.4 L122.1,314.9 L122.9,314.7 L123.7,314.5 L124.5,314.3 L125.4,313.9 L126.2,313.4 L127.0,312.6 L127.8,311.8 L128.6,310.8 L129.4,309.4 L130.2,307.6 L131.0,305.2 L131.8,302.1 L132.6,298.4 L133.4,294.3 L134.2,290.0 L135.0,285.8 L135.8,281.7 L136.6,277.9 L137.4,274.4 L138.3,271.5 L139.1,269.5 L139.9,268.5 L140.7,268.8 L141.5,270.3 L142.3,272.8 L143.1,276.0 L143.9,279.8 L144.7,283.9 L145.5,288.5 L146.3,293.3 L147.1,298.4 L147.9,303.5 L148.7,308.4 L149.5,312.9 L150.3,316.9 L151.2,320.3 L152.0,323.4 L152.8,326.1 L153.6,328.6 L154.4,330.7 L155.2,332.3 L156.0,333.5 L156.8,334.3 L157.6,334.8 L158.4,335.3 L159.2,335.8 L160.0,336.3 L160.8,336.7 L161.6,337.0 L162.4,337.0 L163.2,336.9 L164.0,336.8 L164.9,336.8 L165.7,337.0 L166.5,337.3 L167.3,337.5 L168.1,337.5 L168.9,337.4 L169.7,337.2 L170.5,337.1 L171.3,337.2 L172.1,337.4 L172.9,337.6 L173.7,337.7 L174.5,337.7 L175.3,337.5 L176.1,337.3 L176.9,337.3 L177.8,337.4 L178.6,337.6 L179.4,337.8 L180.2,337.8 L181.0,337.7 L181.8,337.5 L182.6,337.4 L183.4,337.4" fill="none" stroke="#ec5f7c" stroke-width="0.55"/>
<path d="M54.4,335.8 L55.2,335.8 L56.0,335.8 L56.8,335.8 L57.6,335.8 L58.4,335.8 L59.2,335.8 L60.0,335.8 L60.9,335.8 L61.7,335.8 L62.5,335.8 L63.3,335.8 L64.1,335.8 L64.9,335.8 L65.7,335.8 L66.5,335.8 L67.3,335.8 L68.1,335.8 L68.9,335.7 L69.7,335.7 L70.5,335.7 L71.3,335.7 L72.1,335.6 L72.9,335.6 L73.8,335.6 L74.6,335.5 L75.4,335.5 L76.2,335.4 L77.0,335.3 L77.8,335.2 L78.6,335.1 L79.4,335.0 L80.2,334.9 L81.0,334.7 L81.8,334.6 L82.6,334.4 L83.4,334.2 L84.2,334.0 L85.0,333.8 L85.8,333.5 L86.7,333.3 L87.5,333.0 L88.3,332.7 L89.1,332.4 L89.9,332.1 L90.7,331.8 L91.5,331.4 L92.3,331.0 L93.1,330.6 L93.9,330.2 L94.7,329.7 L95.5,329.2 L96.3,328.7 L97.1,328.1 L97.9,327.5 L98.7,326.9 L99.5,326.2 L100.4,325.4 L101.2,324.6 L102.0,323.8 L102.8,322.9 L103.6,322.0 L104.4,321.2 L105.2,320.4 L106.0,319.6 L106.8,318.9 L107.6,318.3 L108.4,317.8 L109.2,317.4 L110.0,317.2 L110.8,317.0 L111.6,317.0 L112.4,317.0 L113.3,317.1 L114.1,317.3 L114.9,317.3 L115.7,317.4 L116.5,317.4 L117.3,317.3 L118.1,317.1 L118.9,316.8 L119.7,316.5 L120.5,316.1 L121.3,315.7 L122.1,315.3 L122.9,314.9 L123.7,314.6 L124.5,314.2 L125.4,313.9 L126.2,313.4 L127.0,312.8 L127.8,312.0 L128.6,310.8 L129.4,309.2 L130.2,307.2 L131.0,304.7 L131.8,301.7 L132.6,298.3 L133.4,294.4 L134.2,290.4 L135.0,286.2 L135.8,282.0 L136.6,278.2 L137.4,274.7 L138.3,271.9 L139.1,269.9 L139.9,268.9 L140.7,269.0 L141.5,270.1 L142.3,272.2 L143.1,275.3 L143.9,279.1 L144.7,283.5 L145.5,288.4 L146.3,293.5 L147.1,298.6 L147.9,303.6 L148.7,308.4 L149.5,312.9 L150.3,316.9 L151.2,320.5 L152.0,323.7 L152.8,326.4 L153.6,328.7 L154.4,330.5 L155.2,332.0 L156.0,333.3 L156.8,334.2 L157.6,335.0 L158.4,335.5 L159.2,336.0 L160.0,336.3 L160.8,336.5 L161.6,336.7 L162.4,336.8 L163.2,337.0 L164.0,337.0 L164.9,337.1 L165.7,337.2 L166.5,337.2 L167.3,337.2 L168.1,337.3 L168.9,337.3 L169.7,337.3 L170.5,337.4 L171.3,337.4 L172.1,337.4 L172.9,337.4 L173.7,337.5 L174.5,337.5 L175.3,337.5 L176.1,337.5 L176.9,337.5 L177.8,337.5 L178.6,337.6 L179.4,337.6 L180.2,337.6 L181.0,337.6 L181.8,337.6 L182.6,337.6 L183.4,337.6" fill="none" stroke="#5a70c8" stroke-width="0.75"/>
<path d="M54.4,335.9 L55.2,335.9 L56.0,335.9 L56.8,335.9 L57.6,335.9 L58.4,335.9 L59.2,335.9 L60.0,335.9 L60.9,335.9 L61.7,335.9 L62.5,335.9 L63.3,335.9 L64.1,335.9 L64.9,335.9 L65.7,335.9 L66.5,335.9 L67.3,335.9 L68.1,335.9 L68.9,335.9 L69.7,335.9 L70.5,335.9 L71.3,335.9 L72.1,335.9 L72.9,335.9 L73.8,335.9 L74.6,335.9 L75.4,335.9 L76.2,335.9 L77.0,335.9 L77.8,335.9 L78.6,335.9 L79.4,335.9 L80.2,335.9 L81.0,335.9 L81.8,335.9 L82.6,335.9 L83.4,335.9 L84.2,335.9 L85.0,335.9 L85.8,335.9 L86.7,335.9 L87.5,335.9 L88.3,335.9 L89.1,335.9 L89.9,335.9 L90.7,335.9 L91.5,335.9 L92.3,335.9 L93.1,335.9 L93.9,335.9 L94.7,335.9 L95.5,335.9 L96.3,335.9 L97.1,335.9 L97.9,335.9 L98.7,335.9 L99.5,335.9 L100.4,335.9 L101.2,335.9 L102.0,335.9 L102.8,335.9 L103.6,335.9 L104.4,335.9 L105.2,335.9 L106.0,335.9 L106.8,335.9 L107.6,335.9 L108.4,335.9 L109.2,335.9 L110.0,335.9 L110.8,335.9 L111.6,335.9 L112.4,335.9 L113.3,335.9 L114.1,335.9 L114.9,335.9 L115.7,335.8 L116.5,335.8 L117.3,335.7 L118.1,335.6 L118.9,335.5 L119.7,335.4 L120.5,335.2 L121.3,334.9 L122.1,334.6 L122.9,334.1 L123.7,333.4 L124.5,332.6 L125.4,331.5 L126.2,330.1 L127.0,328.4 L127.8,326.3 L128.6,323.8 L129.4,320.8 L130.2,317.4 L131.0,313.5 L131.8,309.2 L132.6,304.6 L133.4,299.7 L134.2,294.7 L135.0,289.7 L135.8,284.9 L136.6,280.4 L137.4,276.5 L138.3,273.3 L139.1,271.1 L139.9,269.8 L140.7,269.7 L141.5,270.7 L142.3,272.7 L143.1,275.7 L143.9,279.5 L144.7,283.9 L145.5,288.7 L146.3,293.7 L147.1,298.8 L147.9,303.8 L148.7,308.6 L149.5,313.1 L150.3,317.1 L151.2,320.7 L152.0,323.9 L152.8,326.6 L153.6,328.8 L154.4,330.7 L155.2,332.2 L156.0,333.4 L156.8,334.4 L157.6,335.1 L158.4,335.7 L159.2,336.1 L160.0,336.4 L160.8,336.6 L161.6,336.8 L162.4,337.0 L163.2,337.1 L164.0,337.1 L164.9,337.2 L165.7,337.3 L166.5,337.3 L167.3,337.3 L168.1,337.4 L168.9,337.4 L169.7,337.4 L170.5,337.4 L171.3,337.5 L172.1,337.5 L172.9,337.5 L173.7,337.5 L174.5,337.5 L175.3,337.6 L176.1,337.6 L176.9,337.6 L177.8,337.6 L178.6,337.6 L179.4,337.6 L180.2,337.6 L181.0,337.6 L181.8,337.7 L182.6,337.7 L183.4,337.7" fill="none" stroke="#ffd35c" stroke-width="0.9" stroke-opacity="0.9"/>
<path d="M54.4,336.0 L55.2,336.0 L56.0,336.0 L56.8,336.0 L57.6,336.0 L58.4,336.0 L59.2,336.0 L60.0,336.0 L60.9,336.0 L61.7,336.0 L62.5,336.0 L63.3,336.0 L64.1,336.0 L64.9,336.0 L65.7,336.0 L66.5,336.0 L67.3,336.0 L68.1,336.0 L68.9,336.0 L69.7,336.0 L70.5,336.0 L71.3,336.0 L72.1,336.0 L72.9,336.0 L73.8,336.0 L74.6,336.0 L75.4,336.0 L76.2,336.0 L77.0,336.0 L77.8,336.0 L78.6,336.0 L79.4,336.0 L80.2,336.0 L81.0,336.0 L81.8,336.0 L82.6,336.0 L83.4,336.0 L84.2,336.0 L85.0,336.0 L85.8,336.0 L86.7,336.0 L87.5,336.0 L88.3,336.0 L89.1,336.0 L89.9,336.0 L90.7,336.0 L91.5,336.0 L92.3,336.0 L93.1,336.0 L93.9,336.0 L94.7,336.0 L95.5,336.0 L96.3,336.0 L97.1,336.0 L97.9,336.0 L98.7,336.0 L99.5,336.0 L100.4,336.0 L101.2,336.0 L102.0,336.0 L102.8,336.0 L103.6,336.0 L104.4,336.0 L105.2,336.0 L106.0,335.9 L106.8,335.9 L107.6,335.8 L108.4,335.7 L109.2,335.5 L110.0,335.3 L110.8,335.0 L111.6,334.6 L112.4,334.2 L113.3,333.6 L114.1,332.9 L114.9,332.1 L115.7,331.2 L116.5,330.2 L117.3,329.1 L118.1,327.9 L118.9,326.7 L119.7,325.6 L120.5,324.5 L121.3,323.5 L122.1,322.7 L122.9,322.2 L123.7,321.9 L124.5,321.8 L125.4,322.1 L126.2,322.6 L127.0,323.4 L127.8,324.3 L128.6,325.4 L129.4,326.6 L130.2,327.8 L131.0,329.0 L131.8,330.1 L132.6,331.2 L133.4,332.2 L134.2,333.1 L135.0,333.9 L135.8,334.6 L136.6,335.1 L137.4,335.6 L138.3,336.0 L139.1,336.3 L139.9,336.5 L140.7,336.7 L141.5,336.9 L142.3,337.0 L143.1,337.1 L143.9,337.2 L144.7,337.3 L145.5,337.4 L146.3,337.4 L147.1,337.5 L147.9,337.5 L148.7,337.6 L149.5,337.6 L150.3,337.6 L151.2,337.6 L152.0,337.7 L152.8,337.7 L153.6,337.7 L154.4,337.7 L155.2,337.7 L156.0,337.7 L156.8,337.7 L157.6,337.7 L158.4,337.7 L159.2,337.8 L160.0,337.8 L160.8,337.8 L161.6,337.8 L162.4,337.8 L163.2,337.8 L164.0,337.8 L164.9,337.8 L165.7,337.8 L166.5,337.8 L167.3,337.8 L168.1,337.8 L168.9,337.8 L169.7,337.8 L170.5,337.8 L171.3,337.8 L172.1,337.8 L172.9,337.8 L173.7,337.8 L174.5,337.8 L175.3,337.8 L176.1,337.8 L176.9,337.8 L177.8,337.8 L178.6,337.8 L179.4,337.8 L180.2,337.8 L181.0,337.8 L181.8,337.9 L182.6,337.9 L183.4,337.9" fill="none" stroke="#ffd35c" stroke-width="0.9" stroke-opacity="0.9"/>
<path d="M54.4,335.9 L55.2,335.9 L56.0,336.0 L56.8,336.0 L57.6,336.0 L58.4,336.0 L59.2,336.0 L60.0,336.0 L60.9,336.0 L61.7,336.0 L62.5,336.0 L63.3,336.0 L64.1,336.0 L64.9,336.0 L65.7,336.0 L66.5,336.0 L67.3,336.0 L68.1,336.0 L68.9,336.0 L69.7,336.0 L70.5,336.0 L71.3,336.0 L72.1,336.0 L72.9,336.0 L73.8,336.0 L74.6,336.0 L75.4,336.0 L76.2,336.0 L77.0,336.0 L77.8,336.0 L78.6,336.0 L79.4,336.0 L80.2,335.9 L81.0,335.9 L81.8,335.9 L82.6,335.9 L83.4,335.9 L84.2,335.9 L85.0,335.9 L85.8,335.9 L86.7,335.9 L87.5,335.9 L88.3,335.8 L89.1,335.8 L89.9,335.8 L90.7,335.7 L91.5,335.6 L92.3,335.5 L93.1,335.3 L93.9,335.2 L94.7,334.9 L95.5,334.6 L96.3,334.3 L97.1,333.9 L97.9,333.4 L98.7,332.8 L99.5,332.1 L100.4,331.4 L101.2,330.6 L102.0,329.7 L102.8,328.8 L103.6,327.9 L104.4,327.0 L105.2,326.1 L106.0,325.2 L106.8,324.4 L107.6,323.8 L108.4,323.3 L109.2,323.0 L110.0,322.8 L110.8,322.9 L111.6,323.1 L112.4,323.5 L113.3,324.1 L114.1,324.8 L114.9,325.7 L115.7,326.6 L116.5,327.5 L117.3,328.5 L118.1,329.4 L118.9,330.3 L119.7,331.2 L120.5,332.0 L121.3,332.7 L122.1,333.4 L122.9,334.0 L123.7,334.5 L124.5,334.9 L125.4,335.2 L126.2,335.5 L127.0,335.8 L127.8,336.0 L128.6,336.1 L129.4,336.3 L130.2,336.4 L131.0,336.5 L131.8,336.5 L132.6,336.6 L133.4,336.7 L134.2,336.7 L135.0,336.8 L135.8,336.8 L136.6,336.9 L137.4,336.9 L138.3,337.0 L139.1,337.0 L139.9,337.1 L140.7,337.2 L141.5,337.2 L142.3,337.3 L143.1,337.3 L143.9,337.4 L144.7,337.4 L145.5,337.5 L146.3,337.5 L147.1,337.6 L147.9,337.6 L148.7,337.6 L149.5,337.6 L150.3,337.7 L151.2,337.7 L152.0,337.7 L152.8,337.7 L153.6,337.7 L154.4,337.7 L155.2,337.7 L156.0,337.8 L156.8,337.8 L157.6,337.8 L158.4,337.8 L159.2,337.8 L160.0,337.8 L160.8,337.8 L161.6,337.8 L162.4,337.8 L163.2,337.8 L164.0,337.8 L164.9,337.8 L165.7,337.8 L166.5,337.8 L167.3,337.8 L168.1,337.8 L168.9,337.8 L169.7,337.8 L170.5,337.8 L171.3,337.8 L172.1,337.8 L172.9,337.8 L173.7,337.8 L174.5,337.8 L175.3,337.8 L176.1,337.8 L176.9,337.8 L177.8,337.8 L178.6,337.8 L179.4,337.8 L180.2,337.9 L181.0,337.9 L181.8,337.9 L182.6,337.9 L183.4,337.9" fill="none" stroke="#ffd35c" stroke-width="0.9" stroke-opacity="0.9"/>
<path d="M54.4,335.9 L55.2,335.9 L56.0,335.9 L56.8,335.9 L57.6,335.9 L58.4,335.9 L59.2,335.9 L60.0,335.9 L60.9,335.9 L61.7,335.9 L62.5,335.9 L63.3,335.9 L64.1,335.9 L64.9,335.9 L65.7,335.9 L66.5,335.9 L67.3,335.9 L68.1,335.9 L68.9,335.9 L69.7,335.9 L70.5,335.9 L71.3,335.8 L72.1,335.8 L72.9,335.8 L73.8,335.7 L74.6,335.7 L75.4,335.6 L76.2,335.6 L77.0,335.5 L77.8,335.4 L78.6,335.3 L79.4,335.2 L80.2,335.1 L81.0,335.0 L81.8,334.8 L82.6,334.7 L83.4,334.5 L84.2,334.3 L85.0,334.1 L85.8,333.9 L86.7,333.6 L87.5,333.4 L88.3,333.2 L89.1,332.9 L89.9,332.6 L90.7,332.4 L91.5,332.1 L92.3,331.9 L93.1,331.7 L93.9,331.4 L94.7,331.2 L95.5,331.1 L96.3,330.9 L97.1,330.8 L97.9,330.7 L98.7,330.7 L99.5,330.7 L100.4,330.7 L101.2,330.8 L102.0,330.9 L102.8,331.0 L103.6,331.2 L104.4,331.4 L105.2,331.6 L106.0,331.8 L106.8,332.1 L107.6,332.3 L108.4,332.6 L109.2,332.9 L110.0,333.1 L110.8,333.4 L111.6,333.7 L112.4,334.0 L113.3,334.2 L114.1,334.4 L114.9,334.7 L115.7,334.9 L116.5,335.1 L117.3,335.3 L118.1,335.4 L118.9,335.6 L119.7,335.7 L120.5,335.8 L121.3,335.9 L122.1,336.0 L122.9,336.1 L123.7,336.2 L124.5,336.3 L125.4,336.3 L126.2,336.4 L127.0,336.5 L127.8,336.5 L128.6,336.5 L129.4,336.6 L130.2,336.6 L131.0,336.7 L131.8,336.7 L132.6,336.7 L133.4,336.8 L134.2,336.8 L135.0,336.8 L135.8,336.9 L136.6,336.9 L137.4,337.0 L138.3,337.0 L139.1,337.1 L139.9,337.1 L140.7,337.2 L141.5,337.3 L142.3,337.3 L143.1,337.4 L143.9,337.4 L144.7,337.5 L145.5,337.5 L146.3,337.5 L147.1,337.6 L147.9,337.6 L148.7,337.6 L149.5,337.7 L150.3,337.7 L151.2,337.7 L152.0,337.7 L152.8,337.7 L153.6,337.7 L154.4,337.8 L155.2,337.8 L156.0,337.8 L156.8,337.8 L157.6,337.8 L158.4,337.8 L159.2,337.8 L160.0,337.8 L160.8,337.8 L161.6,337.8 L162.4,337.8 L163.2,337.8 L164.0,337.8 L164.9,337.8 L165.7,337.8 L166.5,337.8 L167.3,337.8 L168.1,337.8 L168.9,337.8 L169.7,337.8 L170.5,337.8 L171.3,337.8 L172.1,337.8 L172.9,337.8 L173.7,337.8 L174.5,337.8 L175.3,337.8 L176.1,337.8 L176.9,337.8 L177.8,337.9 L178.6,337.9 L179.4,337.9 L180.2,337.9 L181.0,337.9 L181.8,337.9 L182.6,337.9 L183.4,337.9" fill="none" stroke="#ffd35c" stroke-width="0.9" stroke-opacity="0.9"/>
<path d="M54.4,336.0 L55.2,336.0 L56.0,336.0 L56.8,336.0 L57.6,336.0 L58.4,336.0 L59.2,336.0 L60.0,336.0 L60.9,336.0 L61.7,336.0 L62.5,336.0 L63.3,336.0 L64.1,336.0 L64.9,336.0 L65.7,336.0 L66.5,336.0 L67.3,336.0 L68.1,336.0 L68.9,336.0 L69.7,336.0 L70.5,336.0 L71.3,336.0 L72.1,336.0 L72.9,336.0 L73.8,336.0 L74.6,336.0 L75.4,336.0 L76.2,336.0 L77.0,336.0 L77.8,336.0 L78.6,336.0 L79.4,336.0 L80.2,336.0 L81.0,336.0 L81.8,336.0 L82.6,336.0 L83.4,336.1 L84.2,336.1 L85.0,336.1 L85.8,336.1 L86.7,336.1 L87.5,336.1 L88.3,336.1 L89.1,336.1 L89.9,336.1 L90.7,336.1 L91.5,336.1 L92.3,336.1 L93.1,336.1 L93.9,336.1 L94.7,336.1 L95.5,336.1 L96.3,336.1 L97.1,336.1 L97.9,336.1 L98.7,336.2 L99.5,336.2 L100.4,336.2 L101.2,336.2 L102.0,336.2 L102.8,336.2 L103.6,336.2 L104.4,336.2 L105.2,336.2 L106.0,336.3 L106.8,336.3 L107.6,336.3 L108.4,336.3 L109.2,336.3 L110.0,336.3 L110.8,336.3 L111.6,336.4 L112.4,336.4 L113.3,336.4 L114.1,336.4 L114.9,336.4 L115.7,336.4 L116.5,336.4 L117.3,336.5 L118.1,336.5 L118.9,336.5 L119.7,336.5 L120.5,336.5 L121.3,336.5 L122.1,336.6 L122.9,336.6 L123.7,336.6 L124.5,336.6 L125.4,336.6 L126.2,336.6 L127.0,336.7 L127.8,336.7 L128.6,336.7 L129.4,336.7 L130.2,336.7 L131.0,336.8 L131.8,336.8 L132.6,336.8 L133.4,336.8 L134.2,336.9 L135.0,336.9 L135.8,337.0 L136.6,337.0 L137.4,337.0 L138.3,337.1 L139.1,337.1 L139.9,337.2 L140.7,337.2 L141.5,337.3 L142.3,337.4 L143.1,337.4 L143.9,337.5 L144.7,337.5 L145.5,337.5 L146.3,337.6 L147.1,337.6 L147.9,337.6 L148.7,337.7 L149.5,337.7 L150.3,337.7 L151.2,337.7 L152.0,337.7 L152.8,337.8 L153.6,337.8 L154.4,337.8 L155.2,337.8 L156.0,337.8 L156.8,337.8 L157.6,337.8 L158.4,337.8 L159.2,337.8 L160.0,337.8 L160.8,337.8 L161.6,337.8 L162.4,337.8 L163.2,337.8 L164.0,337.8 L164.9,337.8 L165.7,337.8 L166.5,337.8 L167.3,337.8 L168.1,337.8 L168.9,337.8 L169.7,337.8 L170.5,337.8 L171.3,337.8 L172.1,337.8 L172.9,337.9 L173.7,337.9 L174.5,337.9 L175.3,337.9 L176.1,337.9 L176.9,337.9 L177.8,337.9 L178.6,337.9 L179.4,337.9 L180.2,337.9 L181.0,337.9 L181.8,337.9 L182.6,337.9 L183.4,337.9" fill="none" stroke="url(#gb)" stroke-width="1.0" stroke-opacity="0.9"/>
<path d="M141.4,257.4 L141.4,268.0" stroke="#6c6c6c" stroke-width="1.05" fill="none"/>
<text x="139.3" y="253.6" font-size="9.5" fill="#2b2b2b" text-anchor="middle" textLength="11.6" lengthAdjust="spacingAndGlyphs">C 1</text>
<path d="M124.1,267.0 L124.1,320.6" stroke="#6c6c6c" stroke-width="1.05" fill="none"/>
<text x="123.8" y="264.5" font-size="9.5" fill="#2b2b2b" text-anchor="middle" textLength="11.6" lengthAdjust="spacingAndGlyphs">C 2</text>
<path d="M110.7,281.7 L110.7,322.7" stroke="#6c6c6c" stroke-width="1.05" fill="none"/>
<text x="110.1" y="278.5" font-size="9.5" fill="#2b2b2b" text-anchor="middle" textLength="11.6" lengthAdjust="spacingAndGlyphs">C 3</text>
<path d="M99.5,294.7 L99.5,328.8" stroke="#6c6c6c" stroke-width="1.05" fill="none"/>
<text x="99.2" y="292.2" font-size="9.5" fill="#2b2b2b" text-anchor="middle" textLength="11.6" lengthAdjust="spacingAndGlyphs">C 4</text>
</g>
<g>
<path d="M239.8,189.6 V338.4 H368.3" fill="none" stroke="#b8b8b8" stroke-width="0.8"/>
<path d="M237.6,338.4 H239.8 M237.6,317.1 H239.8 M237.6,295.9 H239.8 M237.6,274.6 H239.8 M237.6,253.4 H239.8 M237.6,232.1 H239.8 M237.6,210.9 H239.8 M237.6,189.6 H239.8 M239.8,338.4 V340.6 M261.2,338.4 V340.6 M282.6,338.4 V340.6 M304.1,338.4 V340.6 M325.5,338.4 V340.6 M346.9,338.4 V340.6 M368.3,338.4 V340.6 " fill="none" stroke="#b8b8b8" stroke-width="0.8"/>
<clipPath id="t3"><rect x="0" y="0" width="232.4" height="550"/></clipPath>
<g font-size="8.00" fill="#2b2b2b" text-anchor="end" clip-path="url(#t3)">
<text x="233.1" y="341.7" textLength="21.6" lengthAdjust="spacingAndGlyphs">0,E+00</text>
<text x="233.1" y="320.4" textLength="21.6" lengthAdjust="spacingAndGlyphs">1,E+04</text>
<text x="233.1" y="299.2" textLength="21.6" lengthAdjust="spacingAndGlyphs">2,E+04</text>
<text x="233.1" y="277.9" textLength="21.6" lengthAdjust="spacingAndGlyphs">3,E+04</text>
<text x="233.1" y="256.7" textLength="21.6" lengthAdjust="spacingAndGlyphs">4,E+04</text>
<text x="233.1" y="235.4" textLength="21.6" lengthAdjust="spacingAndGlyphs">5,E+04</text>
<text x="233.1" y="214.2" textLength="21.6" lengthAdjust="spacingAndGlyphs">6,E+04</text>
<text x="233.1" y="192.9" textLength="21.6" lengthAdjust="spacingAndGlyphs">7,E+04</text>
</g>
<g font-size="8.4" fill="#2b2b2b" text-anchor="middle">
<text x="239.8" y="351.5" textLength="11.0" lengthAdjust="spacingAndGlyphs">292</text>
<text x="261.2" y="351.5" textLength="11.0" lengthAdjust="spacingAndGlyphs">290</text>
<text x="282.6" y="351.5" textLength="11.0" lengthAdjust="spacingAndGlyphs">288</text>
<text x="304.1" y="351.5" textLength="11.0" lengthAdjust="spacingAndGlyphs">286</text>
<text x="325.5" y="351.5" textLength="11.0" lengthAdjust="spacingAndGlyphs">284</text>
<text x="346.9" y="351.5" textLength="11.0" lengthAdjust="spacingAndGlyphs">282</text>
<text x="368.3" y="351.5" textLength="11.0" lengthAdjust="spacingAndGlyphs">280</text>
</g>
<text x="261.3" y="360.2" font-size="9.0" fill="#2b2b2b" textLength="73.6" lengthAdjust="spacingAndGlyphs">Binding Energy (eV)</text>
<text transform="translate(199.9,285.0) rotate(-90)" text-anchor="middle" font-size="9.0" fill="#2b2b2b" textLength="85.8" lengthAdjust="spacingAndGlyphs">Counts/s (Residuals x 5)</text>
<text x="249.3" y="199.4" font-size="9.1" fill="#2b2b2b" textLength="4.0" lengthAdjust="spacingAndGlyphs">0</text>
<path d="M239.8,334.3 L240.6,334.4 L241.4,334.6 L242.2,334.8 L243.0,334.8 L243.8,334.6 L244.6,334.5 L245.4,334.3 L246.2,334.4 L247.0,334.6 L247.8,334.7 L248.6,334.8 L249.4,334.8 L250.2,334.6 L251.0,334.3 L251.8,334.3 L252.6,334.3 L253.5,334.5 L254.3,334.6 L255.1,334.7 L255.9,334.5 L256.7,334.3 L257.5,334.1 L258.3,334.1 L259.1,334.2 L259.9,334.3 L260.7,334.4 L261.5,334.3 L262.3,334.0 L263.1,333.7 L263.9,333.5 L264.7,333.4 L265.5,333.4 L266.3,333.4 L267.1,333.3 L267.9,333.0 L268.7,332.6 L269.5,332.1 L270.3,331.8 L271.1,331.7 L271.9,331.6 L272.7,331.4 L273.5,331.1 L274.3,330.5 L275.1,329.9 L275.9,329.3 L276.7,328.8 L277.5,328.4 L278.4,327.9 L279.2,327.4 L280.0,326.6 L280.8,325.7 L281.6,324.7 L282.4,323.8 L283.2,323.1 L284.0,322.4 L284.8,321.7 L285.6,320.8 L286.4,319.8 L287.2,318.7 L288.0,317.6 L288.8,316.6 L289.6,315.8 L290.4,315.1 L291.2,314.3 L292.0,313.4 L292.8,312.5 L293.6,311.6 L294.4,310.9 L295.2,310.4 L296.0,310.2 L296.8,310.2 L297.6,310.1 L298.4,309.9 L299.2,309.7 L300.0,309.5 L300.8,309.4 L301.6,309.5 L302.4,309.6 L303.2,309.6 L304.1,309.5 L304.9,309.1 L305.7,308.5 L306.5,308.1 L307.3,307.7 L308.1,307.4 L308.9,307.2 L309.7,306.9 L310.5,306.4 L311.3,305.7 L312.1,304.9 L312.9,304.1 L313.7,303.2 L314.5,302.2 L315.3,300.8 L316.1,298.8 L316.9,296.2 L317.7,293.0 L318.5,289.3 L319.3,285.3 L320.1,281.0 L320.9,276.6 L321.7,272.2 L322.5,268.0 L323.3,264.2 L324.1,261.3 L324.9,259.7 L325.7,259.6 L326.5,261.2 L327.3,264.2 L328.1,268.4 L328.9,273.4 L329.7,279.1 L330.6,285.2 L331.4,291.5 L332.2,298.0 L333.0,304.2 L333.8,309.9 L334.6,314.9 L335.4,319.1 L336.2,322.5 L337.0,325.4 L337.8,327.8 L338.6,329.9 L339.4,331.6 L340.2,332.9 L341.0,333.8 L341.8,334.4 L342.6,334.7 L343.4,335.1 L344.2,335.5 L345.0,335.9 L345.8,336.3 L346.6,336.6 L347.4,336.7 L348.2,336.6 L349.0,336.6 L349.8,336.6 L350.6,336.8 L351.4,337.1 L352.2,337.3 L353.0,337.4 L353.8,337.3 L354.6,337.2 L355.5,337.1 L356.3,337.1 L357.1,337.3 L357.9,337.6 L358.7,337.7 L359.5,337.7 L360.3,337.5 L361.1,337.3 L361.9,337.3 L362.7,337.4 L363.5,337.6 L364.3,337.8 L365.1,337.8 L365.9,337.8 L366.7,337.6 L367.5,337.4 L368.3,337.4" fill="none" stroke="#ec5f7c" stroke-width="0.55"/>
<path d="M239.8,334.6 L240.6,334.6 L241.4,334.6 L242.2,334.6 L243.0,334.6 L243.8,334.6 L244.6,334.6 L245.4,334.6 L246.2,334.6 L247.0,334.6 L247.8,334.6 L248.6,334.6 L249.4,334.5 L250.2,334.5 L251.0,334.5 L251.8,334.5 L252.6,334.5 L253.5,334.5 L254.3,334.5 L255.1,334.4 L255.9,334.4 L256.7,334.4 L257.5,334.3 L258.3,334.3 L259.1,334.2 L259.9,334.2 L260.7,334.1 L261.5,334.0 L262.3,333.9 L263.1,333.8 L263.9,333.7 L264.7,333.6 L265.5,333.4 L266.3,333.3 L267.1,333.1 L267.9,332.9 L268.7,332.6 L269.5,332.4 L270.3,332.1 L271.1,331.8 L271.9,331.5 L272.7,331.2 L273.5,330.8 L274.3,330.4 L275.1,329.9 L275.9,329.5 L276.7,328.9 L277.5,328.4 L278.4,327.8 L279.2,327.2 L280.0,326.5 L280.8,325.8 L281.6,325.0 L282.4,324.2 L283.2,323.3 L284.0,322.4 L284.8,321.5 L285.6,320.6 L286.4,319.6 L287.2,318.6 L288.0,317.6 L288.8,316.7 L289.6,315.7 L290.4,314.8 L291.2,314.0 L292.0,313.2 L292.8,312.5 L293.6,311.9 L294.4,311.3 L295.2,310.8 L296.0,310.5 L296.8,310.2 L297.6,310.0 L298.4,309.8 L299.2,309.7 L300.0,309.6 L300.8,309.5 L301.6,309.4 L302.4,309.3 L303.2,309.2 L304.1,309.1 L304.9,308.9 L305.7,308.7 L306.5,308.4 L307.3,308.1 L308.1,307.8 L308.9,307.4 L309.7,306.9 L310.5,306.4 L311.3,305.8 L312.1,305.1 L312.9,304.2 L313.7,303.2 L314.5,301.9 L315.3,300.3 L316.1,298.3 L316.9,295.8 L317.7,292.9 L318.5,289.5 L319.3,285.6 L320.1,281.4 L320.9,277.0 L321.7,272.5 L322.5,268.3 L323.3,264.6 L324.1,261.8 L324.9,260.1 L325.7,259.8 L326.5,260.9 L327.3,263.6 L328.1,267.6 L328.9,272.7 L329.7,278.6 L330.6,285.1 L331.4,291.7 L332.2,298.1 L333.0,304.2 L333.8,309.8 L334.6,314.8 L335.4,319.1 L336.2,322.7 L337.0,325.7 L337.8,328.1 L338.6,330.0 L339.4,331.5 L340.2,332.7 L341.0,333.6 L341.8,334.3 L342.6,334.8 L343.4,335.3 L344.2,335.6 L345.0,335.9 L345.8,336.2 L346.6,336.4 L347.4,336.5 L348.2,336.7 L349.0,336.8 L349.8,336.9 L350.6,337.0 L351.4,337.0 L352.2,337.1 L353.0,337.2 L353.8,337.2 L354.6,337.3 L355.5,337.3 L356.3,337.3 L357.1,337.4 L357.9,337.4 L358.7,337.4 L359.5,337.5 L360.3,337.5 L361.1,337.5 L361.9,337.5 L362.7,337.5 L363.5,337.6 L364.3,337.6 L365.1,337.6 L365.9,337.6 L366.7,337.6 L367.5,337.6 L368.3,337.7" fill="none" stroke="#5a70c8" stroke-width="0.75"/>
<path d="M239.8,334.8 L240.6,334.8 L241.4,334.8 L242.2,334.8 L243.0,334.8 L243.8,334.8 L244.6,334.8 L245.4,334.8 L246.2,334.8 L247.0,334.8 L247.8,334.8 L248.6,334.8 L249.4,334.8 L250.2,334.8 L251.0,334.8 L251.8,334.8 L252.6,334.8 L253.5,334.8 L254.3,334.8 L255.1,334.8 L255.9,334.8 L256.7,334.8 L257.5,334.8 L258.3,334.8 L259.1,334.8 L259.9,334.8 L260.7,334.8 L261.5,334.8 L262.3,334.8 L263.1,334.8 L263.9,334.8 L264.7,334.8 L265.5,334.8 L266.3,334.8 L267.1,334.8 L267.9,334.9 L268.7,334.9 L269.5,334.9 L270.3,334.9 L271.1,334.9 L271.9,334.9 L272.7,334.9 L273.5,334.9 L274.3,334.9 L275.1,334.9 L275.9,334.9 L276.7,334.9 L277.5,334.9 L278.4,334.9 L279.2,334.9 L280.0,334.9 L280.8,334.9 L281.6,334.9 L282.4,335.0 L283.2,335.0 L284.0,335.0 L284.8,335.0 L285.6,335.0 L286.4,335.0 L287.2,335.0 L288.0,335.0 L288.8,335.1 L289.6,335.1 L290.4,335.1 L291.2,335.1 L292.0,335.1 L292.8,335.1 L293.6,335.2 L294.4,335.2 L295.2,335.2 L296.0,335.2 L296.8,335.2 L297.6,335.3 L298.4,335.3 L299.2,335.3 L300.0,335.3 L300.8,335.3 L301.6,335.3 L302.4,335.3 L303.2,335.3 L304.1,335.3 L304.9,335.3 L305.7,335.3 L306.5,335.3 L307.3,335.3 L308.1,335.2 L308.9,335.2 L309.7,335.0 L310.5,334.8 L311.3,334.5 L312.1,334.1 L312.9,333.4 L313.7,332.5 L314.5,331.3 L315.3,329.6 L316.1,327.5 L316.9,324.8 L317.7,321.5 L318.5,317.5 L319.3,313.0 L320.1,308.1 L320.9,302.8 L321.7,297.4 L322.5,292.2 L323.3,287.4 L324.1,283.5 L324.9,280.6 L325.7,279.0 L326.5,279.0 L327.3,280.4 L328.1,283.2 L328.9,287.1 L329.7,291.9 L330.6,297.2 L331.4,302.7 L332.2,308.1 L333.0,313.3 L333.8,317.9 L334.6,322.1 L335.4,325.6 L336.2,328.5 L337.0,330.8 L337.8,332.6 L338.6,333.9 L339.4,335.0 L340.2,335.7 L341.0,336.2 L341.8,336.6 L342.6,336.9 L343.4,337.0 L344.2,337.2 L345.0,337.3 L345.8,337.3 L346.6,337.4 L347.4,337.4 L348.2,337.5 L349.0,337.5 L349.8,337.5 L350.6,337.6 L351.4,337.6 L352.2,337.6 L353.0,337.6 L353.8,337.6 L354.6,337.7 L355.5,337.7 L356.3,337.7 L357.1,337.7 L357.9,337.7 L358.7,337.7 L359.5,337.8 L360.3,337.8 L361.1,337.8 L361.9,337.8 L362.7,337.8 L363.5,337.8 L364.3,337.8 L365.1,337.8 L365.9,337.8 L366.7,337.8 L367.5,337.9 L368.3,337.9" fill="none" stroke="#ffd35c" stroke-width="0.9" stroke-opacity="0.9"/>
<path d="M239.8,334.7 L240.6,334.7 L241.4,334.7 L242.2,334.7 L243.0,334.7 L243.8,334.7 L244.6,334.7 L245.4,334.7 L246.2,334.7 L247.0,334.7 L247.8,334.7 L248.6,334.7 L249.4,334.7 L250.2,334.7 L251.0,334.7 L251.8,334.7 L252.6,334.7 L253.5,334.7 L254.3,334.7 L255.1,334.7 L255.9,334.7 L256.7,334.7 L257.5,334.7 L258.3,334.7 L259.1,334.7 L259.9,334.7 L260.7,334.7 L261.5,334.7 L262.3,334.7 L263.1,334.7 L263.9,334.7 L264.7,334.7 L265.5,334.7 L266.3,334.7 L267.1,334.7 L267.9,334.7 L268.7,334.7 L269.5,334.7 L270.3,334.7 L271.1,334.7 L271.9,334.7 L272.7,334.7 L273.5,334.7 L274.3,334.7 L275.1,334.7 L275.9,334.7 L276.7,334.7 L277.5,334.7 L278.4,334.7 L279.2,334.6 L280.0,334.6 L280.8,334.6 L281.6,334.6 L282.4,334.5 L283.2,334.5 L284.0,334.4 L284.8,334.3 L285.6,334.3 L286.4,334.1 L287.2,334.0 L288.0,333.9 L288.8,333.7 L289.6,333.5 L290.4,333.2 L291.2,333.0 L292.0,332.6 L292.8,332.3 L293.6,331.9 L294.4,331.4 L295.2,330.9 L296.0,330.3 L296.8,329.6 L297.6,328.9 L298.4,328.1 L299.2,327.3 L300.0,326.4 L300.8,325.5 L301.6,324.4 L302.4,323.4 L303.2,322.3 L304.1,321.1 L304.9,320.0 L305.7,318.8 L306.5,317.6 L307.3,316.5 L308.1,315.3 L308.9,314.2 L309.7,313.2 L310.5,312.2 L311.3,311.3 L312.1,310.6 L312.9,309.9 L313.7,309.4 L314.5,309.0 L315.3,308.7 L316.1,308.6 L316.9,308.7 L317.7,308.9 L318.5,309.3 L319.3,309.8 L320.1,310.5 L320.9,311.3 L321.7,312.2 L322.5,313.2 L323.3,314.3 L324.1,315.5 L324.9,316.7 L325.7,318.0 L326.5,319.3 L327.3,320.6 L328.1,321.9 L328.9,323.1 L329.7,324.4 L330.6,325.6 L331.4,326.7 L332.2,327.8 L333.0,328.8 L333.8,329.7 L334.6,330.6 L335.4,331.4 L336.2,332.1 L337.0,332.8 L337.8,333.4 L338.6,334.0 L339.4,334.5 L340.2,334.9 L341.0,335.3 L341.8,335.6 L342.6,335.9 L343.4,336.2 L344.2,336.4 L345.0,336.6 L345.8,336.8 L346.6,336.9 L347.4,337.0 L348.2,337.1 L349.0,337.2 L349.8,337.3 L350.6,337.4 L351.4,337.4 L352.2,337.5 L353.0,337.5 L353.8,337.6 L354.6,337.6 L355.5,337.6 L356.3,337.6 L357.1,337.7 L357.9,337.7 L358.7,337.7 L359.5,337.7 L360.3,337.7 L361.1,337.7 L361.9,337.7 L362.7,337.8 L363.5,337.8 L364.3,337.8 L365.1,337.8 L365.9,337.8 L366.7,337.8 L367.5,337.8 L368.3,337.8" fill="none" stroke="#ffd35c" stroke-width="0.9" stroke-opacity="0.9"/>
<path d="M239.8,334.7 L240.6,334.7 L241.4,334.7 L242.2,334.7 L243.0,334.7 L243.8,334.7 L244.6,334.7 L245.4,334.7 L246.2,334.7 L247.0,334.7 L247.8,334.7 L248.6,334.7 L249.4,334.7 L250.2,334.7 L251.0,334.7 L251.8,334.7 L252.6,334.7 L253.5,334.7 L254.3,334.7 L255.1,334.7 L255.9,334.7 L256.7,334.7 L257.5,334.7 L258.3,334.7 L259.1,334.7 L259.9,334.7 L260.7,334.7 L261.5,334.7 L262.3,334.7 L263.1,334.7 L263.9,334.6 L264.7,334.6 L265.5,334.6 L266.3,334.5 L267.1,334.5 L267.9,334.4 L268.7,334.4 L269.5,334.3 L270.3,334.2 L271.1,334.1 L271.9,333.9 L272.7,333.7 L273.5,333.5 L274.3,333.2 L275.1,332.9 L275.9,332.6 L276.7,332.2 L277.5,331.7 L278.4,331.2 L279.2,330.6 L280.0,330.0 L280.8,329.2 L281.6,328.5 L282.4,327.6 L283.2,326.8 L284.0,325.8 L284.8,324.9 L285.6,323.9 L286.4,322.9 L287.2,322.0 L288.0,321.0 L288.8,320.1 L289.6,319.2 L290.4,318.4 L291.2,317.8 L292.0,317.2 L292.8,316.7 L293.6,316.4 L294.4,316.3 L295.2,316.3 L296.0,316.4 L296.8,316.8 L297.6,317.2 L298.4,317.8 L299.2,318.5 L300.0,319.3 L300.8,320.2 L301.6,321.1 L302.4,322.1 L303.2,323.2 L304.1,324.2 L304.9,325.2 L305.7,326.2 L306.5,327.2 L307.3,328.2 L308.1,329.1 L308.9,329.9 L309.7,330.7 L310.5,331.4 L311.3,332.0 L312.1,332.6 L312.9,333.1 L313.7,333.6 L314.5,334.0 L315.3,334.4 L316.1,334.7 L316.9,335.0 L317.7,335.2 L318.5,335.5 L319.3,335.7 L320.1,335.8 L320.9,336.0 L321.7,336.1 L322.5,336.3 L323.3,336.4 L324.1,336.5 L324.9,336.6 L325.7,336.8 L326.5,336.9 L327.3,337.0 L328.1,337.1 L328.9,337.2 L329.7,337.2 L330.6,337.3 L331.4,337.4 L332.2,337.4 L333.0,337.5 L333.8,337.5 L334.6,337.6 L335.4,337.6 L336.2,337.6 L337.0,337.7 L337.8,337.7 L338.6,337.7 L339.4,337.7 L340.2,337.7 L341.0,337.7 L341.8,337.7 L342.6,337.8 L343.4,337.8 L344.2,337.8 L345.0,337.8 L345.8,337.8 L346.6,337.8 L347.4,337.8 L348.2,337.8 L349.0,337.8 L349.8,337.8 L350.6,337.8 L351.4,337.8 L352.2,337.8 L353.0,337.8 L353.8,337.9 L354.6,337.9 L355.5,337.9 L356.3,337.9 L357.1,337.9 L357.9,337.9 L358.7,337.9 L359.5,337.9 L360.3,337.9 L361.1,337.9 L361.9,337.9 L362.7,337.9 L363.5,337.9 L364.3,337.9 L365.1,337.9 L365.9,337.9 L366.7,337.9 L367.5,337.9 L368.3,337.9" fill="none" stroke="#ffd35c" stroke-width="0.9" stroke-opacity="0.9"/>
<path d="M239.8,334.8 L240.6,334.8 L241.4,334.8 L242.2,334.8 L243.0,334.8 L243.8,334.8 L244.6,334.8 L245.4,334.8 L246.2,334.8 L247.0,334.8 L247.8,334.8 L248.6,334.8 L249.4,334.8 L250.2,334.8 L251.0,334.8 L251.8,334.8 L252.6,334.8 L253.5,334.8 L254.3,334.7 L255.1,334.7 L255.9,334.7 L256.7,334.7 L257.5,334.7 L258.3,334.6 L259.1,334.6 L259.9,334.5 L260.7,334.5 L261.5,334.4 L262.3,334.3 L263.1,334.3 L263.9,334.2 L264.7,334.1 L265.5,334.0 L266.3,333.8 L267.1,333.7 L267.9,333.6 L268.7,333.4 L269.5,333.3 L270.3,333.1 L271.1,333.0 L271.9,332.8 L272.7,332.7 L273.5,332.6 L274.3,332.4 L275.1,332.3 L275.9,332.2 L276.7,332.1 L277.5,332.1 L278.4,332.1 L279.2,332.0 L280.0,332.1 L280.8,332.1 L281.6,332.2 L282.4,332.2 L283.2,332.4 L284.0,332.5 L284.8,332.6 L285.6,332.8 L286.4,332.9 L287.2,333.1 L288.0,333.3 L288.8,333.5 L289.6,333.6 L290.4,333.8 L291.2,334.0 L292.0,334.2 L292.8,334.3 L293.6,334.5 L294.4,334.6 L295.2,334.7 L296.0,334.8 L296.8,335.0 L297.6,335.1 L298.4,335.2 L299.2,335.2 L300.0,335.3 L300.8,335.4 L301.6,335.5 L302.4,335.5 L303.2,335.6 L304.1,335.6 L304.9,335.7 L305.7,335.7 L306.5,335.8 L307.3,335.8 L308.1,335.8 L308.9,335.9 L309.7,335.9 L310.5,336.0 L311.3,336.0 L312.1,336.0 L312.9,336.1 L313.7,336.1 L314.5,336.2 L315.3,336.2 L316.1,336.2 L316.9,336.3 L317.7,336.3 L318.5,336.4 L319.3,336.4 L320.1,336.5 L320.9,336.5 L321.7,336.6 L322.5,336.7 L323.3,336.8 L324.1,336.8 L324.9,336.9 L325.7,337.0 L326.5,337.1 L327.3,337.2 L328.1,337.3 L328.9,337.3 L329.7,337.4 L330.6,337.5 L331.4,337.5 L332.2,337.6 L333.0,337.6 L333.8,337.7 L334.6,337.7 L335.4,337.7 L336.2,337.7 L337.0,337.8 L337.8,337.8 L338.6,337.8 L339.4,337.8 L340.2,337.8 L341.0,337.8 L341.8,337.8 L342.6,337.8 L343.4,337.8 L344.2,337.9 L345.0,337.9 L345.8,337.9 L346.6,337.9 L347.4,337.9 L348.2,337.9 L349.0,337.9 L349.8,337.9 L350.6,337.9 L351.4,337.9 L352.2,337.9 L353.0,337.9 L353.8,337.9 L354.6,337.9 L355.5,337.9 L356.3,337.9 L357.1,337.9 L357.9,337.9 L358.7,337.9 L359.5,337.9 L360.3,337.9 L361.1,337.9 L361.9,337.9 L362.7,337.9 L363.5,337.9 L364.3,338.0 L365.1,338.0 L365.9,338.0 L366.7,338.0 L367.5,338.0 L368.3,338.0" fill="none" stroke="#ffd35c" stroke-width="0.9" stroke-opacity="0.9"/>
<path d="M239.8,334.8 L240.6,334.8 L241.4,334.8 L242.2,334.8 L243.0,334.8 L243.8,334.8 L244.6,334.8 L245.4,334.8 L246.2,334.8 L247.0,334.8 L247.8,334.8 L248.6,334.8 L249.4,334.8 L250.2,334.8 L251.0,334.8 L251.8,334.8 L252.6,334.8 L253.5,334.8 L254.3,334.8 L255.1,334.8 L255.9,334.9 L256.7,334.9 L257.5,334.9 L258.3,334.9 L259.1,334.9 L259.9,334.9 L260.7,334.9 L261.5,334.9 L262.3,334.9 L263.1,334.9 L263.9,334.9 L264.7,334.9 L265.5,334.9 L266.3,334.9 L267.1,334.9 L267.9,334.9 L268.7,334.9 L269.5,334.9 L270.3,334.9 L271.1,334.9 L271.9,334.9 L272.7,334.9 L273.5,335.0 L274.3,335.0 L275.1,335.0 L275.9,335.0 L276.7,335.0 L277.5,335.0 L278.4,335.0 L279.2,335.0 L280.0,335.0 L280.8,335.0 L281.6,335.1 L282.4,335.1 L283.2,335.1 L284.0,335.1 L284.8,335.1 L285.6,335.1 L286.4,335.1 L287.2,335.2 L288.0,335.2 L288.8,335.2 L289.6,335.2 L290.4,335.3 L291.2,335.3 L292.0,335.3 L292.8,335.3 L293.6,335.4 L294.4,335.4 L295.2,335.4 L296.0,335.4 L296.8,335.5 L297.6,335.5 L298.4,335.5 L299.2,335.6 L300.0,335.6 L300.8,335.6 L301.6,335.7 L302.4,335.7 L303.2,335.7 L304.1,335.7 L304.9,335.8 L305.7,335.8 L306.5,335.8 L307.3,335.9 L308.1,335.9 L308.9,335.9 L309.7,336.0 L310.5,336.0 L311.3,336.0 L312.1,336.1 L312.9,336.1 L313.7,336.1 L314.5,336.2 L315.3,336.2 L316.1,336.3 L316.9,336.3 L317.7,336.3 L318.5,336.4 L319.3,336.4 L320.1,336.5 L320.9,336.6 L321.7,336.6 L322.5,336.7 L323.3,336.8 L324.1,336.9 L324.9,336.9 L325.7,337.0 L326.5,337.1 L327.3,337.2 L328.1,337.3 L328.9,337.3 L329.7,337.4 L330.6,337.5 L331.4,337.5 L332.2,337.6 L333.0,337.6 L333.8,337.7 L334.6,337.7 L335.4,337.7 L336.2,337.8 L337.0,337.8 L337.8,337.8 L338.6,337.8 L339.4,337.8 L340.2,337.8 L341.0,337.8 L341.8,337.8 L342.6,337.8 L343.4,337.9 L344.2,337.9 L345.0,337.9 L345.8,337.9 L346.6,337.9 L347.4,337.9 L348.2,337.9 L349.0,337.9 L349.8,337.9 L350.6,337.9 L351.4,337.9 L352.2,337.9 L353.0,337.9 L353.8,337.9 L354.6,337.9 L355.5,337.9 L356.3,337.9 L357.1,337.9 L357.9,337.9 L358.7,337.9 L359.5,337.9 L360.3,337.9 L361.1,337.9 L361.9,337.9 L362.7,338.0 L363.5,338.0 L364.3,338.0 L365.1,338.0 L365.9,338.0 L366.7,338.0 L367.5,338.0 L368.3,338.0" fill="none" stroke="url(#gb)" stroke-width="1.0" stroke-opacity="0.9"/>
<path d="M326.7,241.6 L326.7,276.0" stroke="#6c6c6c" stroke-width="1.05" fill="none"/>
<text x="326.7" y="238.5" font-size="9.5" fill="#2b2b2b" text-anchor="middle" textLength="11.6" lengthAdjust="spacingAndGlyphs">C 1</text>
<path d="M316.1,256.2 L316.1,308.0" stroke="#6c6c6c" stroke-width="1.05" fill="none"/>
<text x="316.1" y="253.1" font-size="9.5" fill="#2b2b2b" text-anchor="middle" textLength="11.6" lengthAdjust="spacingAndGlyphs">C 2</text>
<path d="M295.4,277.4 L295.4,315.3" stroke="#6c6c6c" stroke-width="1.05" fill="none"/>
<text x="295.4" y="273.7" font-size="9.5" fill="#2b2b2b" text-anchor="middle" textLength="11.6" lengthAdjust="spacingAndGlyphs">C 3</text>
<path d="M275.6,296.6 L275.6,330.6" stroke="#6c6c6c" stroke-width="1.05" fill="none"/>
<text x="275.6" y="294.0" font-size="9.5" fill="#2b2b2b" text-anchor="middle" textLength="11.6" lengthAdjust="spacingAndGlyphs">C 4</text>
</g>
<g>
<path d="M55.4,366.6 V515.5 H184.2" fill="none" stroke="#b8b8b8" stroke-width="0.8"/>
<path d="M53.2,515.5 H55.4 M53.2,494.2 H55.4 M53.2,473.0 H55.4 M53.2,451.7 H55.4 M53.2,430.4 H55.4 M53.2,409.1 H55.4 M53.2,387.9 H55.4 M53.2,366.6 H55.4 M55.4,515.5 V517.7 M76.9,515.5 V517.7 M98.3,515.5 V517.7 M119.8,515.5 V517.7 M141.3,515.5 V517.7 M162.7,515.5 V517.7 M184.2,515.5 V517.7 " fill="none" stroke="#b8b8b8" stroke-width="0.8"/>
<clipPath id="t4"><rect x="0" y="0" width="48.9" height="550"/></clipPath>
<g font-size="8.00" fill="#2b2b2b" text-anchor="end" clip-path="url(#t4)">
<text x="49.6" y="518.8" textLength="22.1" lengthAdjust="spacingAndGlyphs">0,E+00</text>
<text x="49.6" y="497.5" textLength="22.1" lengthAdjust="spacingAndGlyphs">1,E+04</text>
<text x="49.6" y="476.3" textLength="22.1" lengthAdjust="spacingAndGlyphs">2,E+04</text>
<text x="49.6" y="455.0" textLength="22.1" lengthAdjust="spacingAndGlyphs">3,E+04</text>
<text x="49.6" y="433.7" textLength="22.1" lengthAdjust="spacingAndGlyphs">4,E+04</text>
<text x="49.6" y="412.4" textLength="22.1" lengthAdjust="spacingAndGlyphs">5,E+04</text>
<text x="49.6" y="391.2" textLength="22.1" lengthAdjust="spacingAndGlyphs">6,E+04</text>
<text x="49.6" y="369.9" textLength="22.1" lengthAdjust="spacingAndGlyphs">7,E+04</text>
</g>
<g font-size="8.4" fill="#2b2b2b" text-anchor="middle">
<text x="55.4" y="528.2" textLength="11.0" lengthAdjust="spacingAndGlyphs">292</text>
<text x="76.9" y="528.2" textLength="11.0" lengthAdjust="spacingAndGlyphs">290</text>
<text x="98.3" y="528.2" textLength="11.0" lengthAdjust="spacingAndGlyphs">288</text>
<text x="119.8" y="528.2" textLength="11.0" lengthAdjust="spacingAndGlyphs">286</text>
<text x="141.3" y="528.2" textLength="11.0" lengthAdjust="spacingAndGlyphs">284</text>
<text x="162.7" y="528.2" textLength="11.0" lengthAdjust="spacingAndGlyphs">282</text>
<text x="184.2" y="528.2" textLength="11.0" lengthAdjust="spacingAndGlyphs">280</text>
</g>
<text x="76.7" y="537.1" font-size="9.0" fill="#2b2b2b" textLength="72.9" lengthAdjust="spacingAndGlyphs">Binding Energy (eV)</text>
<text transform="translate(15.2,462.5) rotate(-90)" text-anchor="middle" font-size="9.0" fill="#2b2b2b" textLength="85.8" lengthAdjust="spacingAndGlyphs">Counts/s (Residuals x 5)</text>
<text x="63.8" y="377.0" font-size="9.1" fill="#2b2b2b" textLength="7.8" lengthAdjust="spacingAndGlyphs">+1</text>
<path d="M55.4,512.5 L56.2,512.6 L57.0,512.8 L57.8,513.0 L58.6,513.0 L59.4,512.8 L60.2,512.6 L61.0,512.5 L61.8,512.5 L62.6,512.7 L63.4,512.9 L64.3,513.0 L65.1,512.9 L65.9,512.7 L66.7,512.5 L67.5,512.4 L68.3,512.5 L69.1,512.7 L69.9,512.9 L70.7,512.9 L71.5,512.8 L72.3,512.6 L73.1,512.4 L73.9,512.4 L74.7,512.6 L75.5,512.8 L76.3,512.9 L77.1,512.8 L77.9,512.6 L78.7,512.4 L79.5,512.3 L80.4,512.3 L81.2,512.5 L82.0,512.7 L82.8,512.7 L83.6,512.6 L84.4,512.3 L85.2,512.1 L86.0,512.0 L86.8,512.0 L87.6,512.1 L88.4,512.2 L89.2,512.0 L90.0,511.7 L90.8,511.2 L91.6,510.8 L92.4,510.4 L93.2,510.1 L94.0,509.7 L94.8,509.1 L95.7,508.3 L96.5,507.2 L97.3,505.9 L98.1,504.7 L98.9,503.5 L99.7,502.3 L100.5,501.0 L101.3,499.5 L102.1,497.7 L102.9,495.8 L103.7,493.8 L104.5,492.0 L105.3,490.4 L106.1,488.9 L106.9,487.4 L107.7,485.9 L108.5,484.4 L109.3,483.1 L110.1,482.2 L110.9,481.7 L111.8,481.6 L112.6,481.8 L113.4,482.2 L114.2,482.5 L115.0,482.9 L115.8,483.4 L116.6,484.1 L117.4,484.9 L118.2,485.7 L119.0,486.4 L119.8,486.9 L120.6,487.1 L121.4,487.1 L122.2,487.0 L123.0,486.9 L123.8,486.8 L124.6,486.6 L125.4,486.1 L126.2,485.3 L127.0,484.2 L127.8,482.7 L128.7,480.9 L129.5,478.8 L130.3,476.3 L131.1,473.2 L131.9,469.1 L132.7,464.1 L133.5,458.1 L134.3,451.4 L135.1,444.2 L135.9,436.7 L136.7,429.2 L137.5,422.0 L138.3,415.3 L139.1,409.6 L139.9,405.6 L140.7,403.5 L141.5,403.8 L142.3,406.4 L143.1,411.1 L143.9,417.4 L144.8,424.9 L145.6,433.2 L146.4,441.9 L147.2,450.9 L148.0,459.9 L148.8,468.4 L149.6,476.2 L150.4,483.1 L151.2,488.8 L152.0,493.6 L152.8,497.6 L153.6,500.9 L154.4,503.8 L155.2,506.1 L156.0,507.8 L156.8,509.1 L157.6,509.9 L158.4,510.5 L159.2,511.0 L160.0,511.6 L160.9,512.1 L161.7,512.7 L162.5,513.0 L163.3,513.2 L164.1,513.2 L164.9,513.2 L165.7,513.3 L166.5,513.6 L167.3,513.9 L168.1,514.2 L168.9,514.3 L169.7,514.2 L170.5,514.1 L171.3,514.0 L172.1,514.1 L172.9,514.3 L173.7,514.5 L174.5,514.7 L175.3,514.6 L176.1,514.5 L177.0,514.3 L177.8,514.3 L178.6,514.4 L179.4,514.6 L180.2,514.8 L181.0,514.9 L181.8,514.8 L182.6,514.6 L183.4,514.4 L184.2,514.4" fill="none" stroke="#ec5f7c" stroke-width="0.55"/>
<path d="M55.4,512.8 L56.2,512.8 L57.0,512.7 L57.8,512.7 L58.6,512.7 L59.4,512.7 L60.2,512.7 L61.0,512.7 L61.8,512.7 L62.6,512.7 L63.4,512.7 L64.3,512.7 L65.1,512.7 L65.9,512.7 L66.7,512.7 L67.5,512.7 L68.3,512.7 L69.1,512.7 L69.9,512.7 L70.7,512.7 L71.5,512.7 L72.3,512.7 L73.1,512.6 L73.9,512.6 L74.7,512.6 L75.5,512.6 L76.3,512.6 L77.1,512.6 L77.9,512.6 L78.7,512.6 L79.5,512.5 L80.4,512.5 L81.2,512.5 L82.0,512.5 L82.8,512.5 L83.6,512.4 L84.4,512.4 L85.2,512.3 L86.0,512.2 L86.8,512.2 L87.6,512.1 L88.4,511.9 L89.2,511.8 L90.0,511.5 L90.8,511.3 L91.6,511.0 L92.4,510.6 L93.2,510.1 L94.0,509.5 L94.8,508.9 L95.7,508.1 L96.5,507.2 L97.3,506.2 L98.1,505.0 L98.9,503.7 L99.7,502.3 L100.5,500.8 L101.3,499.2 L102.1,497.5 L102.9,495.7 L103.7,493.9 L104.5,492.1 L105.3,490.3 L106.1,488.6 L106.9,487.1 L107.7,485.7 L108.5,484.4 L109.3,483.4 L110.1,482.7 L110.9,482.1 L111.8,481.9 L112.6,481.8 L113.4,482.0 L114.2,482.4 L115.0,482.9 L115.8,483.5 L116.6,484.1 L117.4,484.8 L118.2,485.4 L119.0,486.0 L119.8,486.5 L120.6,486.9 L121.4,487.2 L122.2,487.3 L123.0,487.3 L123.8,487.1 L124.6,486.7 L125.4,486.1 L126.2,485.3 L127.0,484.2 L127.8,482.8 L128.7,481.0 L129.5,478.8 L130.3,476.0 L131.1,472.6 L131.9,468.5 L132.7,463.6 L133.5,457.9 L134.3,451.6 L135.1,444.6 L135.9,437.2 L136.7,429.7 L137.5,422.4 L138.3,415.8 L139.1,410.3 L139.9,406.2 L140.7,404.0 L141.5,403.9 L142.3,406.1 L143.1,410.3 L143.9,416.4 L144.8,424.0 L145.6,432.6 L146.4,441.7 L147.2,451.0 L148.0,460.0 L148.8,468.5 L149.6,476.2 L150.4,483.0 L151.2,488.9 L152.0,493.9 L152.8,497.9 L153.6,501.2 L154.4,503.9 L155.2,505.9 L156.0,507.6 L156.8,508.8 L157.6,509.8 L158.4,510.6 L159.2,511.2 L160.0,511.7 L160.9,512.1 L161.7,512.5 L162.5,512.8 L163.3,513.0 L164.1,513.2 L164.9,513.4 L165.7,513.6 L166.5,513.7 L167.3,513.8 L168.1,513.9 L168.9,514.0 L169.7,514.1 L170.5,514.2 L171.3,514.2 L172.1,514.3 L172.9,514.3 L173.7,514.4 L174.5,514.4 L175.3,514.4 L176.1,514.5 L177.0,514.5 L177.8,514.5 L178.6,514.5 L179.4,514.6 L180.2,514.6 L181.0,514.6 L181.8,514.6 L182.6,514.6 L183.4,514.7 L184.2,514.7" fill="none" stroke="#5a70c8" stroke-width="0.75"/>
<path d="M55.4,512.9 L56.2,512.9 L57.0,512.9 L57.8,512.9 L58.6,512.9 L59.4,512.9 L60.2,512.9 L61.0,512.9 L61.8,512.9 L62.6,512.9 L63.4,512.9 L64.3,512.9 L65.1,512.9 L65.9,512.9 L66.7,512.9 L67.5,512.9 L68.3,512.9 L69.1,512.9 L69.9,512.9 L70.7,512.9 L71.5,512.9 L72.3,512.9 L73.1,512.9 L73.9,512.9 L74.7,512.9 L75.5,512.9 L76.3,512.9 L77.1,512.9 L77.9,512.9 L78.7,512.9 L79.5,512.9 L80.4,512.9 L81.2,512.9 L82.0,512.9 L82.8,512.9 L83.6,512.9 L84.4,512.9 L85.2,512.9 L86.0,512.9 L86.8,512.9 L87.6,512.9 L88.4,512.9 L89.2,512.9 L90.0,512.9 L90.8,512.9 L91.6,512.9 L92.4,512.9 L93.2,512.9 L94.0,512.9 L94.8,512.9 L95.7,512.9 L96.5,512.9 L97.3,512.9 L98.1,512.9 L98.9,512.9 L99.7,512.9 L100.5,512.9 L101.3,512.9 L102.1,512.9 L102.9,512.9 L103.7,512.9 L104.5,512.9 L105.3,512.9 L106.1,512.9 L106.9,512.9 L107.7,512.9 L108.5,512.9 L109.3,512.9 L110.1,513.0 L110.9,513.0 L111.8,513.0 L112.6,513.0 L113.4,513.0 L114.2,513.0 L115.0,512.9 L115.8,512.9 L116.6,512.9 L117.4,512.9 L118.2,512.9 L119.0,512.9 L119.8,512.8 L120.6,512.8 L121.4,512.7 L122.2,512.7 L123.0,512.5 L123.8,512.4 L124.6,512.2 L125.4,511.8 L126.2,511.3 L127.0,510.6 L127.8,509.6 L128.7,508.3 L129.5,506.4 L130.3,504.0 L131.1,500.9 L131.9,496.9 L132.7,492.2 L133.5,486.5 L134.3,480.0 L135.1,472.8 L135.9,465.0 L136.7,457.0 L137.5,449.1 L138.3,441.7 L139.1,435.3 L139.9,430.3 L140.7,427.0 L141.5,425.9 L142.3,426.9 L143.1,430.0 L143.9,434.9 L144.8,441.2 L145.6,448.6 L146.4,456.6 L147.2,464.7 L148.0,472.6 L148.8,480.0 L149.6,486.7 L150.4,492.5 L151.2,497.5 L152.0,501.5 L152.8,504.8 L153.6,507.4 L154.4,509.3 L155.2,510.7 L156.0,511.8 L156.8,512.6 L157.6,513.1 L158.4,513.5 L159.2,513.8 L160.0,513.9 L160.9,514.1 L161.7,514.2 L162.5,514.3 L163.3,514.3 L164.1,514.4 L164.9,514.4 L165.7,514.5 L166.5,514.5 L167.3,514.5 L168.1,514.6 L168.9,514.6 L169.7,514.6 L170.5,514.6 L171.3,514.7 L172.1,514.7 L172.9,514.7 L173.7,514.7 L174.5,514.7 L175.3,514.8 L176.1,514.8 L177.0,514.8 L177.8,514.8 L178.6,514.8 L179.4,514.8 L180.2,514.8 L181.0,514.9 L181.8,514.9 L182.6,514.9 L183.4,514.9 L184.2,514.9" fill="none" stroke="#ffd35c" stroke-width="0.9" stroke-opacity="0.9"/>
<path d="M55.4,512.9 L56.2,512.9 L57.0,512.9 L57.8,512.9 L58.6,512.9 L59.4,512.9 L60.2,512.9 L61.0,512.9 L61.8,512.9 L62.6,512.9 L63.4,512.9 L64.3,512.9 L65.1,512.9 L65.9,512.9 L66.7,512.9 L67.5,512.9 L68.3,512.9 L69.1,512.9 L69.9,512.9 L70.7,512.9 L71.5,512.9 L72.3,512.9 L73.1,512.9 L73.9,512.9 L74.7,512.9 L75.5,512.9 L76.3,512.9 L77.1,512.9 L77.9,512.9 L78.7,512.9 L79.5,512.9 L80.4,512.9 L81.2,512.9 L82.0,512.8 L82.8,512.8 L83.6,512.8 L84.4,512.8 L85.2,512.8 L86.0,512.8 L86.8,512.8 L87.6,512.8 L88.4,512.8 L89.2,512.8 L90.0,512.8 L90.8,512.8 L91.6,512.8 L92.4,512.8 L93.2,512.8 L94.0,512.7 L94.8,512.7 L95.7,512.7 L96.5,512.7 L97.3,512.6 L98.1,512.6 L98.9,512.6 L99.7,512.5 L100.5,512.4 L101.3,512.4 L102.1,512.3 L102.9,512.2 L103.7,512.0 L104.5,511.9 L105.3,511.7 L106.1,511.5 L106.9,511.3 L107.7,511.0 L108.5,510.7 L109.3,510.3 L110.1,509.9 L110.9,509.5 L111.8,509.0 L112.6,508.4 L113.4,507.8 L114.2,507.1 L115.0,506.4 L115.8,505.6 L116.6,504.7 L117.4,503.8 L118.2,502.8 L119.0,501.8 L119.8,500.7 L120.6,499.6 L121.4,498.4 L122.2,497.3 L123.0,496.1 L123.8,494.9 L124.6,493.8 L125.4,492.6 L126.2,491.5 L127.0,490.5 L127.8,489.6 L128.7,488.7 L129.5,487.9 L130.3,487.3 L131.1,486.7 L131.9,486.3 L132.7,486.1 L133.5,486.0 L134.3,486.1 L135.1,486.3 L135.9,486.6 L136.7,487.1 L137.5,487.8 L138.3,488.6 L139.1,489.4 L139.9,490.4 L140.7,491.5 L141.5,492.6 L142.3,493.8 L143.1,495.0 L143.9,496.3 L144.8,497.5 L145.6,498.8 L146.4,500.0 L147.2,501.2 L148.0,502.4 L148.8,503.5 L149.6,504.5 L150.4,505.5 L151.2,506.5 L152.0,507.4 L152.8,508.2 L153.6,508.9 L154.4,509.6 L155.2,510.2 L156.0,510.8 L156.8,511.3 L157.6,511.8 L158.4,512.2 L159.2,512.6 L160.0,512.9 L160.9,513.1 L161.7,513.4 L162.5,513.6 L163.3,513.8 L164.1,513.9 L164.9,514.1 L165.7,514.2 L166.5,514.3 L167.3,514.4 L168.1,514.4 L168.9,514.5 L169.7,514.6 L170.5,514.6 L171.3,514.6 L172.1,514.7 L172.9,514.7 L173.7,514.7 L174.5,514.8 L175.3,514.8 L176.1,514.8 L177.0,514.8 L177.8,514.8 L178.6,514.8 L179.4,514.8 L180.2,514.9 L181.0,514.9 L181.8,514.9 L182.6,514.9 L183.4,514.9 L184.2,514.9" fill="none" stroke="#ffd35c" stroke-width="0.9" stroke-opacity="0.9"/>
<path d="M55.4,512.9 L56.2,512.9 L57.0,512.9 L57.8,512.9 L58.6,512.9 L59.4,512.9 L60.2,512.9 L61.0,512.9 L61.8,512.9 L62.6,512.9 L63.4,512.9 L64.3,512.9 L65.1,512.9 L65.9,512.9 L66.7,512.9 L67.5,512.9 L68.3,512.9 L69.1,512.9 L69.9,512.9 L70.7,512.9 L71.5,512.9 L72.3,512.8 L73.1,512.8 L73.9,512.8 L74.7,512.8 L75.5,512.8 L76.3,512.8 L77.1,512.8 L77.9,512.8 L78.7,512.8 L79.5,512.8 L80.4,512.8 L81.2,512.8 L82.0,512.7 L82.8,512.7 L83.6,512.7 L84.4,512.7 L85.2,512.6 L86.0,512.6 L86.8,512.5 L87.6,512.4 L88.4,512.3 L89.2,512.1 L90.0,511.9 L90.8,511.7 L91.6,511.4 L92.4,511.0 L93.2,510.5 L94.0,510.0 L94.8,509.4 L95.7,508.6 L96.5,507.8 L97.3,506.8 L98.1,505.7 L98.9,504.5 L99.7,503.1 L100.5,501.7 L101.3,500.1 L102.1,498.5 L102.9,496.9 L103.7,495.2 L104.5,493.6 L105.3,492.0 L106.1,490.6 L106.9,489.3 L107.7,488.2 L108.5,487.3 L109.3,486.7 L110.1,486.3 L110.9,486.3 L111.8,486.6 L112.6,487.1 L113.4,488.0 L114.2,489.1 L115.0,490.3 L115.8,491.8 L116.6,493.3 L117.4,495.0 L118.2,496.7 L119.0,498.4 L119.8,500.0 L120.6,501.6 L121.4,503.1 L122.2,504.5 L123.0,505.8 L123.8,507.0 L124.6,508.0 L125.4,508.9 L126.2,509.7 L127.0,510.4 L127.8,511.0 L128.7,511.5 L129.5,511.9 L130.3,512.3 L131.1,512.6 L131.9,512.8 L132.7,513.0 L133.5,513.2 L134.3,513.3 L135.1,513.4 L135.9,513.5 L136.7,513.6 L137.5,513.7 L138.3,513.8 L139.1,513.9 L139.9,514.0 L140.7,514.1 L141.5,514.1 L142.3,514.2 L143.1,514.3 L143.9,514.4 L144.8,514.4 L145.6,514.5 L146.4,514.5 L147.2,514.6 L148.0,514.6 L148.8,514.7 L149.6,514.7 L150.4,514.7 L151.2,514.8 L152.0,514.8 L152.8,514.8 L153.6,514.8 L154.4,514.8 L155.2,514.9 L156.0,514.9 L156.8,514.9 L157.6,514.9 L158.4,514.9 L159.2,514.9 L160.0,514.9 L160.9,514.9 L161.7,514.9 L162.5,514.9 L163.3,514.9 L164.1,514.9 L164.9,514.9 L165.7,514.9 L166.5,515.0 L167.3,515.0 L168.1,515.0 L168.9,515.0 L169.7,515.0 L170.5,515.0 L171.3,515.0 L172.1,515.0 L172.9,515.0 L173.7,515.0 L174.5,515.0 L175.3,515.0 L176.1,515.0 L177.0,515.0 L177.8,515.0 L178.6,515.0 L179.4,515.0 L180.2,515.0 L181.0,515.0 L181.8,515.0 L182.6,515.0 L183.4,515.0 L184.2,515.0" fill="none" stroke="#ffd35c" stroke-width="0.9" stroke-opacity="0.9"/>
<path d="M55.4,512.9 L56.2,512.9 L57.0,513.0 L57.8,513.0 L58.6,513.0 L59.4,513.0 L60.2,513.0 L61.0,513.0 L61.8,513.0 L62.6,513.0 L63.4,513.0 L64.3,513.0 L65.1,513.0 L65.9,513.0 L66.7,513.0 L67.5,513.0 L68.3,513.0 L69.1,513.0 L69.9,513.0 L70.7,513.0 L71.5,513.0 L72.3,513.0 L73.1,513.0 L73.9,513.0 L74.7,513.0 L75.5,513.0 L76.3,513.0 L77.1,513.0 L77.9,513.0 L78.7,513.0 L79.5,513.0 L80.4,513.0 L81.2,513.0 L82.0,513.0 L82.8,513.0 L83.6,513.0 L84.4,513.0 L85.2,513.0 L86.0,513.0 L86.8,513.0 L87.6,513.0 L88.4,513.0 L89.2,513.0 L90.0,513.0 L90.8,513.0 L91.6,513.0 L92.4,513.1 L93.2,513.1 L94.0,513.1 L94.8,513.1 L95.7,513.1 L96.5,513.1 L97.3,513.1 L98.1,513.1 L98.9,513.1 L99.7,513.1 L100.5,513.1 L101.3,513.1 L102.1,513.1 L102.9,513.1 L103.7,513.1 L104.5,513.2 L105.3,513.2 L106.1,513.2 L106.9,513.2 L107.7,513.2 L108.5,513.2 L109.3,513.3 L110.1,513.3 L110.9,513.3 L111.8,513.3 L112.6,513.3 L113.4,513.4 L114.2,513.4 L115.0,513.4 L115.8,513.4 L116.6,513.4 L117.4,513.5 L118.2,513.5 L119.0,513.5 L119.8,513.5 L120.6,513.5 L121.4,513.5 L122.2,513.6 L123.0,513.6 L123.8,513.6 L124.6,513.6 L125.4,513.6 L126.2,513.6 L127.0,513.7 L127.8,513.7 L128.7,513.7 L129.5,513.7 L130.3,513.7 L131.1,513.8 L131.9,513.8 L132.7,513.8 L133.5,513.9 L134.3,513.9 L135.1,513.9 L135.9,514.0 L136.7,514.0 L137.5,514.1 L138.3,514.1 L139.1,514.2 L139.9,514.2 L140.7,514.3 L141.5,514.4 L142.3,514.4 L143.1,514.5 L143.9,514.6 L144.8,514.6 L145.6,514.7 L146.4,514.7 L147.2,514.8 L148.0,514.8 L148.8,514.8 L149.6,514.9 L150.4,514.9 L151.2,514.9 L152.0,514.9 L152.8,514.9 L153.6,514.9 L154.4,515.0 L155.2,515.0 L156.0,515.0 L156.8,515.0 L157.6,515.0 L158.4,515.0 L159.2,515.0 L160.0,515.0 L160.9,515.0 L161.7,515.0 L162.5,515.0 L163.3,515.0 L164.1,515.0 L164.9,515.0 L165.7,515.0 L166.5,515.0 L167.3,515.0 L168.1,515.0 L168.9,515.0 L169.7,515.0 L170.5,515.0 L171.3,515.0 L172.1,515.0 L172.9,515.0 L173.7,515.0 L174.5,515.0 L175.3,515.0 L176.1,515.1 L177.0,515.1 L177.8,515.1 L178.6,515.1 L179.4,515.1 L180.2,515.1 L181.0,515.1 L181.8,515.1 L182.6,515.1 L183.4,515.1 L184.2,515.1" fill="none" stroke="url(#gb)" stroke-width="1.0" stroke-opacity="0.9"/>
<path d="M121.7,400.7 L142.0,425.0" stroke="#4c4c4c" stroke-width="0.8" fill="none"/>
<text x="116.2" y="399.0" font-size="9.5" fill="#2b2b2b" text-anchor="middle" textLength="11.6" lengthAdjust="spacingAndGlyphs">C 1</text>
<path d="M116.1,464.3 L133.4,486.1" stroke="#4c4c4c" stroke-width="0.8" fill="none"/>
<text x="108.6" y="461.0" font-size="9.5" fill="#2b2b2b" text-anchor="middle" textLength="11.6" lengthAdjust="spacingAndGlyphs">C 2</text>
<path d="M91.3,464.0 L111.7,486.1" stroke="#4c4c4c" stroke-width="0.8" fill="none"/>
<text x="87.6" y="461.0" font-size="9.5" fill="#2b2b2b" text-anchor="middle" textLength="11.6" lengthAdjust="spacingAndGlyphs">C 3</text>
</g>
<g>
<path d="M242.4,366.4 V515.3 H368.3" fill="none" stroke="#b8b8b8" stroke-width="0.8"/>
<path d="M240.2,515.3 H242.4 M240.2,494.0 H242.4 M240.2,472.8 H242.4 M240.2,451.5 H242.4 M240.2,430.2 H242.4 M240.2,408.9 H242.4 M240.2,387.7 H242.4 M240.2,366.4 H242.4 M242.4,515.3 V517.5 M263.4,515.3 V517.5 M284.4,515.3 V517.5 M305.4,515.3 V517.5 M326.3,515.3 V517.5 M347.3,515.3 V517.5 M368.3,515.3 V517.5 " fill="none" stroke="#b8b8b8" stroke-width="0.8"/>
<clipPath id="t5"><rect x="0" y="0" width="235.4" height="550"/></clipPath>
<g font-size="8.00" fill="#2b2b2b" text-anchor="end" clip-path="url(#t5)">
<text x="236.1" y="518.6" textLength="21.5" lengthAdjust="spacingAndGlyphs">0,E+00</text>
<text x="236.1" y="497.3" textLength="21.5" lengthAdjust="spacingAndGlyphs">1,E+04</text>
<text x="236.1" y="476.1" textLength="21.5" lengthAdjust="spacingAndGlyphs">2,E+04</text>
<text x="236.1" y="454.8" textLength="21.5" lengthAdjust="spacingAndGlyphs">3,E+04</text>
<text x="236.1" y="433.5" textLength="21.5" lengthAdjust="spacingAndGlyphs">4,E+04</text>
<text x="236.1" y="412.2" textLength="21.5" lengthAdjust="spacingAndGlyphs">5,E+04</text>
<text x="236.1" y="391.0" textLength="21.5" lengthAdjust="spacingAndGlyphs">6,E+04</text>
<text x="236.1" y="369.7" textLength="21.5" lengthAdjust="spacingAndGlyphs">7,E+04</text>
</g>
<g font-size="8.4" fill="#2b2b2b" text-anchor="middle">
<text x="242.4" y="528.4" textLength="11.0" lengthAdjust="spacingAndGlyphs">292</text>
<text x="263.4" y="528.4" textLength="11.0" lengthAdjust="spacingAndGlyphs">290</text>
<text x="284.4" y="528.4" textLength="11.0" lengthAdjust="spacingAndGlyphs">288</text>
<text x="305.4" y="528.4" textLength="11.0" lengthAdjust="spacingAndGlyphs">286</text>
<text x="326.3" y="528.4" textLength="11.0" lengthAdjust="spacingAndGlyphs">284</text>
<text x="347.3" y="528.4" textLength="11.0" lengthAdjust="spacingAndGlyphs">282</text>
<text x="368.3" y="528.4" textLength="11.0" lengthAdjust="spacingAndGlyphs">280</text>
</g>
<text x="261.3" y="536.8" font-size="9.0" fill="#2b2b2b" textLength="73.6" lengthAdjust="spacingAndGlyphs">Binding Energy (eV)</text>
<text transform="translate(199.9,461.8) rotate(-90)" text-anchor="middle" font-size="9.0" fill="#2b2b2b" textLength="86.4" lengthAdjust="spacingAndGlyphs">Counts/s (Residuals x 5)</text>
<text x="249.4" y="382.2" font-size="9.1" fill="#2b2b2b" textLength="11.9" lengthAdjust="spacingAndGlyphs">PA</text>
<path d="M242.4,512.3 L243.2,512.5 L244.0,512.7 L244.8,512.8 L245.5,512.8 L246.3,512.7 L247.1,512.5 L247.9,512.3 L248.7,512.4 L249.5,512.6 L250.3,512.8 L251.1,512.9 L251.8,512.8 L252.6,512.6 L253.4,512.4 L254.2,512.3 L255.0,512.4 L255.8,512.6 L256.6,512.7 L257.4,512.8 L258.1,512.7 L258.9,512.4 L259.7,512.3 L260.5,512.3 L261.3,512.5 L262.1,512.7 L262.9,512.8 L263.6,512.7 L264.4,512.6 L265.2,512.4 L266.0,512.2 L266.8,512.3 L267.6,512.5 L268.4,512.6 L269.2,512.7 L269.9,512.6 L270.7,512.4 L271.5,512.2 L272.3,512.1 L273.1,512.2 L273.9,512.4 L274.7,512.5 L275.4,512.5 L276.2,512.3 L277.0,512.0 L277.8,511.8 L278.6,511.7 L279.4,511.7 L280.2,511.7 L281.0,511.5 L281.7,511.1 L282.5,510.5 L283.3,509.8 L284.1,509.2 L284.9,508.5 L285.7,508.0 L286.5,507.3 L287.3,506.4 L288.0,505.2 L288.8,503.9 L289.6,502.7 L290.4,501.5 L291.2,500.6 L292.0,499.8 L292.8,499.1 L293.5,498.3 L294.3,497.6 L295.1,497.1 L295.9,496.8 L296.7,497.0 L297.5,497.4 L298.3,497.9 L299.1,498.5 L299.8,498.9 L300.6,499.1 L301.4,499.3 L302.2,499.5 L303.0,499.7 L303.8,499.9 L304.6,499.8 L305.4,499.4 L306.1,498.6 L306.9,497.6 L307.7,496.5 L308.5,495.4 L309.3,494.3 L310.1,493.1 L310.9,491.6 L311.6,489.8 L312.4,487.6 L313.2,485.1 L314.0,482.2 L314.8,478.9 L315.6,474.9 L316.4,469.9 L317.2,463.8 L317.9,456.3 L318.7,447.4 L319.5,437.4 L320.3,426.7 L321.1,415.6 L321.9,404.6 L322.7,394.4 L323.4,385.6 L324.2,378.9 L325.0,375.1 L325.8,374.6 L326.6,377.7 L327.4,384.0 L328.2,392.9 L329.0,403.6 L329.7,415.2 L330.5,427.2 L331.3,439.0 L332.1,450.3 L332.9,460.7 L333.7,470.1 L334.5,478.2 L335.3,484.9 L336.0,490.2 L336.8,494.4 L337.6,497.7 L338.4,500.5 L339.2,502.8 L340.0,504.8 L340.8,506.4 L341.5,507.5 L342.3,508.3 L343.1,508.9 L343.9,509.5 L344.7,510.2 L345.5,510.9 L346.3,511.5 L347.1,512.0 L347.8,512.3 L348.6,512.4 L349.4,512.5 L350.2,512.7 L351.0,513.0 L351.8,513.4 L352.6,513.7 L353.3,513.8 L354.1,513.8 L354.9,513.7 L355.7,513.7 L356.5,513.8 L357.3,514.0 L358.1,514.2 L358.9,514.4 L359.6,514.4 L360.4,514.2 L361.2,514.1 L362.0,514.0 L362.8,514.1 L363.6,514.4 L364.4,514.6 L365.2,514.6 L365.9,514.5 L366.7,514.4 L367.5,514.2 L368.3,514.2" fill="none" stroke="#ec5f7c" stroke-width="0.55"/>
<path d="M242.4,512.6 L243.2,512.6 L244.0,512.6 L244.8,512.6 L245.5,512.6 L246.3,512.6 L247.1,512.6 L247.9,512.6 L248.7,512.6 L249.5,512.6 L250.3,512.6 L251.1,512.6 L251.8,512.6 L252.6,512.6 L253.4,512.6 L254.2,512.6 L255.0,512.6 L255.8,512.6 L256.6,512.6 L257.4,512.6 L258.1,512.5 L258.9,512.5 L259.7,512.5 L260.5,512.5 L261.3,512.5 L262.1,512.5 L262.9,512.5 L263.6,512.5 L264.4,512.5 L265.2,512.5 L266.0,512.5 L266.8,512.5 L267.6,512.5 L268.4,512.5 L269.2,512.4 L269.9,512.4 L270.7,512.4 L271.5,512.4 L272.3,512.4 L273.1,512.4 L273.9,512.3 L274.7,512.3 L275.4,512.3 L276.2,512.2 L277.0,512.1 L277.8,512.0 L278.6,511.9 L279.4,511.8 L280.2,511.5 L281.0,511.3 L281.7,511.0 L282.5,510.5 L283.3,510.0 L284.1,509.5 L284.9,508.8 L285.7,508.0 L286.5,507.1 L287.3,506.1 L288.0,505.0 L288.8,503.9 L289.6,502.8 L290.4,501.7 L291.2,500.6 L292.0,499.6 L292.8,498.8 L293.5,498.1 L294.3,497.6 L295.1,497.3 L295.9,497.2 L296.7,497.3 L297.5,497.5 L298.3,497.9 L299.1,498.3 L299.8,498.7 L300.6,499.1 L301.4,499.4 L302.2,499.7 L303.0,499.8 L303.8,499.7 L304.6,499.5 L305.4,499.1 L306.1,498.5 L306.9,497.8 L307.7,496.8 L308.5,495.8 L309.3,494.5 L310.1,493.1 L310.9,491.6 L311.6,489.8 L312.4,487.7 L313.2,485.3 L314.0,482.4 L314.8,478.8 L315.6,474.6 L316.4,469.4 L317.2,463.1 L317.9,455.7 L318.7,447.2 L319.5,437.5 L320.3,427.1 L321.1,416.2 L321.9,405.3 L322.7,395.1 L323.4,386.4 L324.2,379.7 L325.0,375.8 L325.8,375.1 L326.6,377.8 L327.4,383.5 L328.2,392.0 L329.0,402.5 L329.7,414.2 L330.5,426.6 L331.3,438.8 L332.1,450.3 L332.9,460.9 L333.7,470.2 L334.5,478.2 L335.3,484.8 L336.0,490.2 L336.8,494.6 L337.6,498.1 L338.4,500.8 L339.2,503.0 L340.0,504.7 L340.8,506.1 L341.5,507.2 L342.3,508.2 L343.1,509.0 L343.9,509.7 L344.7,510.4 L345.5,510.9 L346.3,511.4 L347.1,511.8 L347.8,512.1 L348.6,512.4 L349.4,512.7 L350.2,512.9 L351.0,513.1 L351.8,513.3 L352.6,513.5 L353.3,513.6 L354.1,513.7 L354.9,513.8 L355.7,513.9 L356.5,514.0 L357.3,514.0 L358.1,514.1 L358.9,514.1 L359.6,514.2 L360.4,514.2 L361.2,514.3 L362.0,514.3 L362.8,514.3 L363.6,514.3 L364.4,514.4 L365.2,514.4 L365.9,514.4 L366.7,514.4 L367.5,514.4 L368.3,514.5" fill="none" stroke="#5a70c8" stroke-width="0.75"/>
<path d="M242.4,512.7 L243.2,512.7 L244.0,512.7 L244.8,512.7 L245.5,512.7 L246.3,512.7 L247.1,512.7 L247.9,512.7 L248.7,512.7 L249.5,512.7 L250.3,512.7 L251.1,512.7 L251.8,512.7 L252.6,512.7 L253.4,512.7 L254.2,512.7 L255.0,512.7 L255.8,512.7 L256.6,512.7 L257.4,512.7 L258.1,512.7 L258.9,512.7 L259.7,512.7 L260.5,512.7 L261.3,512.7 L262.1,512.7 L262.9,512.7 L263.6,512.7 L264.4,512.7 L265.2,512.7 L266.0,512.7 L266.8,512.7 L267.6,512.7 L268.4,512.7 L269.2,512.7 L269.9,512.7 L270.7,512.7 L271.5,512.7 L272.3,512.7 L273.1,512.7 L273.9,512.7 L274.7,512.7 L275.4,512.7 L276.2,512.7 L277.0,512.7 L277.8,512.7 L278.6,512.7 L279.4,512.7 L280.2,512.7 L281.0,512.7 L281.7,512.7 L282.5,512.7 L283.3,512.7 L284.1,512.7 L284.9,512.7 L285.7,512.7 L286.5,512.7 L287.3,512.7 L288.0,512.7 L288.8,512.7 L289.6,512.7 L290.4,512.7 L291.2,512.7 L292.0,512.7 L292.8,512.6 L293.5,512.6 L294.3,512.6 L295.1,512.6 L295.9,512.6 L296.7,512.6 L297.5,512.6 L298.3,512.6 L299.1,512.6 L299.8,512.6 L300.6,512.6 L301.4,512.5 L302.2,512.5 L303.0,512.5 L303.8,512.4 L304.6,512.4 L305.4,512.4 L306.1,512.3 L306.9,512.2 L307.7,512.2 L308.5,512.0 L309.3,511.9 L310.1,511.6 L310.9,511.3 L311.6,510.8 L312.4,510.0 L313.2,508.9 L314.0,507.2 L314.8,504.9 L315.6,501.8 L316.4,497.7 L317.2,492.4 L317.9,485.9 L318.7,478.0 L319.5,468.9 L320.3,458.8 L321.1,448.1 L321.9,437.3 L322.7,427.0 L323.4,417.9 L324.2,410.7 L325.0,406.2 L325.8,404.7 L326.6,406.3 L327.4,411.1 L328.2,418.4 L329.0,427.6 L329.7,438.1 L330.5,449.0 L331.3,459.8 L332.1,470.0 L332.9,479.2 L333.7,487.1 L334.5,493.7 L335.3,499.1 L336.0,503.2 L336.8,506.4 L337.6,508.7 L338.4,510.3 L339.2,511.5 L340.0,512.3 L340.8,512.9 L341.5,513.2 L342.3,513.5 L343.1,513.7 L343.9,513.8 L344.7,513.9 L345.5,514.0 L346.3,514.1 L347.1,514.1 L347.8,514.2 L348.6,514.2 L349.4,514.2 L350.2,514.3 L351.0,514.3 L351.8,514.4 L352.6,514.4 L353.3,514.4 L354.1,514.4 L354.9,514.5 L355.7,514.5 L356.5,514.5 L357.3,514.5 L358.1,514.5 L358.9,514.6 L359.6,514.6 L360.4,514.6 L361.2,514.6 L362.0,514.6 L362.8,514.6 L363.6,514.6 L364.4,514.6 L365.2,514.7 L365.9,514.7 L366.7,514.7 L367.5,514.7 L368.3,514.7" fill="none" stroke="#ffd35c" stroke-width="0.9" stroke-opacity="0.9"/>
<path d="M242.4,512.7 L243.2,512.7 L244.0,512.7 L244.8,512.7 L245.5,512.7 L246.3,512.7 L247.1,512.7 L247.9,512.7 L248.7,512.7 L249.5,512.7 L250.3,512.7 L251.1,512.7 L251.8,512.7 L252.6,512.7 L253.4,512.7 L254.2,512.7 L255.0,512.7 L255.8,512.7 L256.6,512.7 L257.4,512.7 L258.1,512.7 L258.9,512.7 L259.7,512.7 L260.5,512.7 L261.3,512.7 L262.1,512.7 L262.9,512.7 L263.6,512.7 L264.4,512.7 L265.2,512.7 L266.0,512.7 L266.8,512.7 L267.6,512.7 L268.4,512.6 L269.2,512.6 L269.9,512.6 L270.7,512.6 L271.5,512.6 L272.3,512.6 L273.1,512.6 L273.9,512.6 L274.7,512.6 L275.4,512.6 L276.2,512.6 L277.0,512.6 L277.8,512.6 L278.6,512.6 L279.4,512.6 L280.2,512.6 L281.0,512.6 L281.7,512.5 L282.5,512.5 L283.3,512.5 L284.1,512.5 L284.9,512.5 L285.7,512.4 L286.5,512.4 L287.3,512.3 L288.0,512.3 L288.8,512.2 L289.6,512.2 L290.4,512.1 L291.2,512.0 L292.0,511.8 L292.8,511.7 L293.5,511.5 L294.3,511.3 L295.1,511.1 L295.9,510.8 L296.7,510.4 L297.5,510.1 L298.3,509.7 L299.1,509.2 L299.8,508.6 L300.6,508.0 L301.4,507.3 L302.2,506.6 L303.0,505.8 L303.8,504.9 L304.6,503.9 L305.4,502.9 L306.1,501.8 L306.9,500.6 L307.7,499.4 L308.5,498.1 L309.3,496.8 L310.1,495.4 L310.9,494.0 L311.6,492.6 L312.4,491.3 L313.2,489.9 L314.0,488.6 L314.8,487.4 L315.6,486.2 L316.4,485.1 L317.2,484.2 L317.9,483.4 L318.7,482.7 L319.5,482.2 L320.3,481.9 L321.1,481.7 L321.9,481.7 L322.7,481.9 L323.4,482.3 L324.2,482.9 L325.0,483.7 L325.8,484.5 L326.6,485.6 L327.4,486.7 L328.2,487.9 L329.0,489.3 L329.7,490.6 L330.5,492.0 L331.3,493.5 L332.1,494.9 L332.9,496.4 L333.7,497.8 L334.5,499.1 L335.3,500.5 L336.0,501.8 L336.8,503.0 L337.6,504.1 L338.4,505.2 L339.2,506.2 L340.0,507.2 L340.8,508.0 L341.5,508.8 L342.3,509.5 L343.1,510.2 L343.9,510.7 L344.7,511.3 L345.5,511.7 L346.3,512.1 L347.1,512.5 L347.8,512.8 L348.6,513.1 L349.4,513.3 L350.2,513.5 L351.0,513.7 L351.8,513.8 L352.6,513.9 L353.3,514.0 L354.1,514.1 L354.9,514.2 L355.7,514.3 L356.5,514.3 L357.3,514.4 L358.1,514.4 L358.9,514.5 L359.6,514.5 L360.4,514.5 L361.2,514.5 L362.0,514.6 L362.8,514.6 L363.6,514.6 L364.4,514.6 L365.2,514.6 L365.9,514.6 L366.7,514.6 L367.5,514.6 L368.3,514.7" fill="none" stroke="#ffd35c" stroke-width="0.9" stroke-opacity="0.9"/>
<path d="M242.4,512.7 L243.2,512.7 L244.0,512.7 L244.8,512.7 L245.5,512.7 L246.3,512.7 L247.1,512.7 L247.9,512.7 L248.7,512.7 L249.5,512.7 L250.3,512.7 L251.1,512.7 L251.8,512.7 L252.6,512.7 L253.4,512.7 L254.2,512.7 L255.0,512.7 L255.8,512.7 L256.6,512.7 L257.4,512.7 L258.1,512.7 L258.9,512.7 L259.7,512.7 L260.5,512.7 L261.3,512.7 L262.1,512.7 L262.9,512.7 L263.6,512.7 L264.4,512.7 L265.2,512.7 L266.0,512.7 L266.8,512.7 L267.6,512.7 L268.4,512.7 L269.2,512.7 L269.9,512.7 L270.7,512.7 L271.5,512.7 L272.3,512.7 L273.1,512.7 L273.9,512.7 L274.7,512.6 L275.4,512.6 L276.2,512.6 L277.0,512.5 L277.8,512.4 L278.6,512.3 L279.4,512.2 L280.2,512.0 L281.0,511.7 L281.7,511.4 L282.5,511.1 L283.3,510.6 L284.1,510.0 L284.9,509.4 L285.7,508.6 L286.5,507.8 L287.3,506.8 L288.0,505.9 L288.8,504.8 L289.6,503.8 L290.4,502.8 L291.2,501.9 L292.0,501.0 L292.8,500.4 L293.5,499.9 L294.3,499.6 L295.1,499.6 L295.9,499.8 L296.7,500.2 L297.5,500.9 L298.3,501.7 L299.1,502.6 L299.8,503.6 L300.6,504.6 L301.4,505.7 L302.2,506.7 L303.0,507.7 L303.8,508.6 L304.6,509.4 L305.4,510.1 L306.1,510.7 L306.9,511.2 L307.7,511.6 L308.5,511.9 L309.3,512.2 L310.1,512.4 L310.9,512.6 L311.6,512.8 L312.4,512.9 L313.2,513.0 L314.0,513.0 L314.8,513.1 L315.6,513.1 L316.4,513.2 L317.2,513.2 L317.9,513.3 L318.7,513.3 L319.5,513.4 L320.3,513.4 L321.1,513.5 L321.9,513.5 L322.7,513.6 L323.4,513.7 L324.2,513.8 L325.0,513.8 L325.8,513.9 L326.6,514.0 L327.4,514.1 L328.2,514.2 L329.0,514.3 L329.7,514.3 L330.5,514.4 L331.3,514.5 L332.1,514.5 L332.9,514.5 L333.7,514.6 L334.5,514.6 L335.3,514.6 L336.0,514.7 L336.8,514.7 L337.6,514.7 L338.4,514.7 L339.2,514.7 L340.0,514.7 L340.8,514.7 L341.5,514.7 L342.3,514.7 L343.1,514.8 L343.9,514.8 L344.7,514.8 L345.5,514.8 L346.3,514.8 L347.1,514.8 L347.8,514.8 L348.6,514.8 L349.4,514.8 L350.2,514.8 L351.0,514.8 L351.8,514.8 L352.6,514.8 L353.3,514.8 L354.1,514.8 L354.9,514.8 L355.7,514.8 L356.5,514.8 L357.3,514.8 L358.1,514.8 L358.9,514.8 L359.6,514.8 L360.4,514.8 L361.2,514.8 L362.0,514.8 L362.8,514.8 L363.6,514.8 L364.4,514.8 L365.2,514.9 L365.9,514.9 L366.7,514.9 L367.5,514.9 L368.3,514.9" fill="none" stroke="#ffd35c" stroke-width="0.9" stroke-opacity="0.9"/>
<path d="M242.4,512.7 L243.2,512.7 L244.0,512.8 L244.8,512.8 L245.5,512.8 L246.3,512.8 L247.1,512.8 L247.9,512.8 L248.7,512.8 L249.5,512.8 L250.3,512.8 L251.1,512.8 L251.8,512.8 L252.6,512.8 L253.4,512.8 L254.2,512.8 L255.0,512.8 L255.8,512.8 L256.6,512.8 L257.4,512.8 L258.1,512.8 L258.9,512.8 L259.7,512.8 L260.5,512.8 L261.3,512.8 L262.1,512.8 L262.9,512.8 L263.6,512.8 L264.4,512.8 L265.2,512.8 L266.0,512.8 L266.8,512.8 L267.6,512.8 L268.4,512.8 L269.2,512.8 L269.9,512.8 L270.7,512.8 L271.5,512.8 L272.3,512.8 L273.1,512.8 L273.9,512.8 L274.7,512.8 L275.4,512.8 L276.2,512.8 L277.0,512.8 L277.8,512.8 L278.6,512.8 L279.4,512.8 L280.2,512.9 L281.0,512.9 L281.7,512.9 L282.5,512.9 L283.3,512.9 L284.1,512.9 L284.9,512.9 L285.7,512.9 L286.5,512.9 L287.3,512.9 L288.0,512.9 L288.8,512.9 L289.6,512.9 L290.4,512.9 L291.2,512.9 L292.0,512.9 L292.8,512.9 L293.5,513.0 L294.3,513.0 L295.1,513.0 L295.9,513.0 L296.7,513.0 L297.5,513.0 L298.3,513.0 L299.1,513.0 L299.8,513.0 L300.6,513.1 L301.4,513.1 L302.2,513.1 L303.0,513.1 L303.8,513.1 L304.6,513.1 L305.4,513.1 L306.1,513.1 L306.9,513.1 L307.7,513.1 L308.5,513.2 L309.3,513.2 L310.1,513.2 L310.9,513.2 L311.6,513.2 L312.4,513.2 L313.2,513.2 L314.0,513.3 L314.8,513.3 L315.6,513.3 L316.4,513.3 L317.2,513.4 L317.9,513.4 L318.7,513.4 L319.5,513.5 L320.3,513.5 L321.1,513.6 L321.9,513.6 L322.7,513.7 L323.4,513.8 L324.2,513.8 L325.0,513.9 L325.8,514.0 L326.6,514.1 L327.4,514.2 L328.2,514.2 L329.0,514.3 L329.7,514.4 L330.5,514.4 L331.3,514.5 L332.1,514.5 L332.9,514.6 L333.7,514.6 L334.5,514.6 L335.3,514.7 L336.0,514.7 L336.8,514.7 L337.6,514.7 L338.4,514.7 L339.2,514.7 L340.0,514.8 L340.8,514.8 L341.5,514.8 L342.3,514.8 L343.1,514.8 L343.9,514.8 L344.7,514.8 L345.5,514.8 L346.3,514.8 L347.1,514.8 L347.8,514.8 L348.6,514.8 L349.4,514.8 L350.2,514.8 L351.0,514.8 L351.8,514.8 L352.6,514.8 L353.3,514.8 L354.1,514.8 L354.9,514.8 L355.7,514.8 L356.5,514.8 L357.3,514.8 L358.1,514.8 L358.9,514.8 L359.6,514.8 L360.4,514.9 L361.2,514.9 L362.0,514.9 L362.8,514.9 L363.6,514.9 L364.4,514.9 L365.2,514.9 L365.9,514.9 L366.7,514.9 L367.5,514.9 L368.3,514.9" fill="none" stroke="url(#gb)" stroke-width="1.0" stroke-opacity="0.9"/>
<path d="M315.8,390.3 L325.7,402.7" stroke="#4c4c4c" stroke-width="0.8" fill="none"/>
<text x="307.6" y="386.2" font-size="9.5" fill="#2b2b2b" text-anchor="middle" textLength="11.6" lengthAdjust="spacingAndGlyphs">C 1</text>
<path d="M303.0,459.0 L320.3,480.6" stroke="#4c4c4c" stroke-width="0.8" fill="none"/>
<text x="296.0" y="456.0" font-size="9.5" fill="#2b2b2b" text-anchor="middle" textLength="11.6" lengthAdjust="spacingAndGlyphs">C 2</text>
<path d="M275.6,477.0 L293.9,499.4" stroke="#4c4c4c" stroke-width="0.8" fill="none"/>
<text x="271.0" y="474.6" font-size="9.5" fill="#2b2b2b" text-anchor="middle" textLength="11.6" lengthAdjust="spacingAndGlyphs">C 3</text>
</g>
</svg>
</body></html>
